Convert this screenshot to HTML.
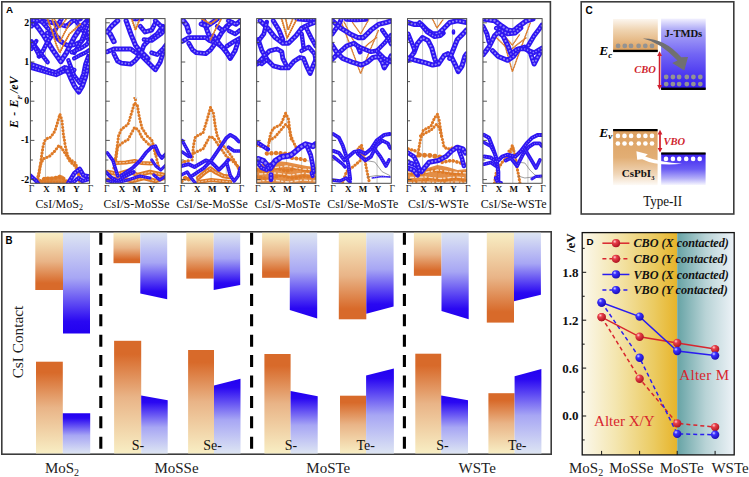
<!DOCTYPE html>
<html><head><meta charset="utf-8"><style>
html,body{margin:0;padding:0;background:#fff;width:749px;height:477px;overflow:hidden}
svg{display:block;position:absolute;left:0;top:0}
</style></head><body>
<svg width="749" height="477" viewBox="0 0 749 477">
<rect x="1.8" y="1.8" width="548.6" height="212" fill="none" stroke="#3c3c3c" stroke-width="1.6"/>
<text x="6.0" y="13.1" font-family="Liberation Sans, sans-serif" font-weight="bold" font-size="9.8" fill="#000">A</text>
<text transform="translate(17.8,102.2) rotate(-90)" text-anchor="middle" font-family="Liberation Serif, serif" font-weight="bold" font-style="italic" font-size="12" fill="#000">E<tspan dx="1.2"> -</tspan><tspan dx="1.2"> E</tspan><tspan font-size="7" dy="4.4">F</tspan><tspan dy="-4.4" dx="1.8">/eV</tspan></text>
<g>
<rect x="30.4" y="18.6" width="59.2" height="164.70000000000002" fill="#fff"/>
<line x1="45.50" y1="18.6" x2="45.50" y2="183.3" stroke="#c4c4c4" stroke-width="1"/>
<line x1="60.30" y1="18.6" x2="60.30" y2="183.3" stroke="#c4c4c4" stroke-width="1"/>
<line x1="75.39" y1="18.6" x2="75.39" y2="183.3" stroke="#c4c4c4" stroke-width="1"/>
<clipPath id="cp0"><rect x="30.4" y="18.6" width="59.2" height="164.70000000000002"/></clipPath>
<g clip-path="url(#cp0)">
<polyline points="37.4,182.0 39.4,172.0 41.9,153.9 43.1,146.4 44.4,141.3 46.3,138.8 50.1,137.5 53.2,133.8 55.1,130.6 57.4,123.0 59.9,114.2 61.9,120.0 63.3,133.8 64.5,140.7 65.2,145.7 66.4,150.8 68.3,157.7 72.4,161.0 75.4,163.0 77.8,169.8 79.7,183.0" fill="none" stroke="#9a9a9a" stroke-width="0.6" stroke-linejoin="round" stroke-linecap="round"/>
<polyline points="37.4,182.0 39.4,172.0 41.9,153.9 43.1,146.4 44.4,141.3 46.3,138.8 50.1,137.5 53.2,133.8 55.1,130.6 57.4,123.0 59.9,114.2 61.9,120.0 63.3,133.8 64.5,140.7 65.2,145.7 66.4,150.8 68.3,157.7 72.4,161.0 75.4,163.0 77.8,169.8 79.7,183.0" fill="none" stroke="#df7a26" stroke-width="3.12" stroke-linejoin="round" stroke-linecap="round" stroke-dasharray="0.01 3.24"/>
<polyline points="36.4,183.0 38.4,175.0 40.4,165.0 43.1,158.9 49.4,156.4 54.5,151.4 58.9,145.7 61.4,147.6 63.9,151.4 67.0,156.4 70.4,162.0 74.1,165.0 76.9,169.0 79.4,176.0 82.4,184.0" fill="none" stroke="#9a9a9a" stroke-width="0.6" stroke-linejoin="round" stroke-linecap="round"/>
<polyline points="36.4,183.0 38.4,175.0 40.4,165.0 43.1,158.9 49.4,156.4 54.5,151.4 58.9,145.7 61.4,147.6 63.9,151.4 67.0,156.4 70.4,162.0 74.1,165.0 76.9,169.0 79.4,176.0 82.4,184.0" fill="none" stroke="#df7a26" stroke-width="3.12" stroke-linejoin="round" stroke-linecap="round" stroke-dasharray="0.01 3.24"/>
<polygon points="40.4,184.0 43.4,177.0 56.4,176.5 59.4,174.5 63.4,176.0 67.4,184.0" fill="#df7a26" fill-opacity="0.9"/>
<polyline points="40.4,181.0 44.4,178.5 52.4,178.5 59.4,177.0 64.4,179.0 68.4,183.0" fill="none" stroke="#9a9a9a" stroke-width="0.6" stroke-linejoin="round" stroke-linecap="round"/>
<polyline points="40.4,181.0 44.4,178.5 52.4,178.5 59.4,177.0 64.4,179.0 68.4,183.0" fill="none" stroke="#df7a26" stroke-width="3.9000000000000004" stroke-linejoin="round" stroke-linecap="round" stroke-dasharray="0.01 4.05"/>
<polyline points="39.4,182.0 50.4,182.0 66.4,182.5" fill="none" stroke="#9a9a9a" stroke-width="0.6" stroke-linejoin="round" stroke-linecap="round"/>
<polyline points="39.4,182.0 50.4,182.0 66.4,182.5" fill="none" stroke="#df7a26" stroke-width="2.8600000000000003" stroke-linejoin="round" stroke-linecap="round" stroke-dasharray="0.01 2.97"/>
<polyline points="30.4,175.5 36.3,181.1 38.4,184.0" fill="none" stroke="#2e16f2" stroke-width="4.14" stroke-linejoin="round" stroke-linecap="round"/>
<polyline points="30.4,175.5 36.3,181.1 38.4,184.0" fill="none" stroke="#ffffff" stroke-width="1.1399999999999997" stroke-linejoin="round" stroke-linecap="round" stroke-opacity="0.45" stroke-dasharray="0.01 2.64"/>
<polyline points="68.4,183.0 74.1,173.6 79.7,168.9 83.5,175.5 89.2,176.4" fill="none" stroke="#2e16f2" stroke-width="4.6" stroke-linejoin="round" stroke-linecap="round"/>
<polyline points="68.4,183.0 74.1,173.6 79.7,168.9 83.5,175.5 89.2,176.4" fill="none" stroke="#ffffff" stroke-width="1.5999999999999996" stroke-linejoin="round" stroke-linecap="round" stroke-opacity="0.45" stroke-dasharray="0.01 3.10"/>
<polyline points="72.4,183.0 78.4,178.0 82.4,181.0 89.4,179.0" fill="none" stroke="#2e16f2" stroke-width="4.14" stroke-linejoin="round" stroke-linecap="round"/>
<polyline points="72.4,183.0 78.4,178.0 82.4,181.0 89.4,179.0" fill="none" stroke="#ffffff" stroke-width="1.1399999999999997" stroke-linejoin="round" stroke-linecap="round" stroke-opacity="0.45" stroke-dasharray="0.01 2.64"/>
<polyline points="30.4,64.0 42.0,68.0 50.4,71.0 56.1,72.5 64.6,67.5 74.1,70.0" fill="none" stroke="#2e16f2" stroke-width="4.83" stroke-linejoin="round" stroke-linecap="round"/>
<polyline points="30.4,64.0 42.0,68.0 50.4,71.0 56.1,72.5 64.6,67.5 74.1,70.0" fill="none" stroke="#ffffff" stroke-width="1.83" stroke-linejoin="round" stroke-linecap="round" stroke-opacity="0.45" stroke-dasharray="0.01 3.33"/>
<polyline points="30.4,67.5 42.0,71.0 50.4,73.5 56.1,75.0 64.4,71.0 70.4,72.0" fill="none" stroke="#2e16f2" stroke-width="4.369999999999999" stroke-linejoin="round" stroke-linecap="round"/>
<polyline points="30.4,67.5 42.0,71.0 50.4,73.5 56.1,75.0 64.4,71.0 70.4,72.0" fill="none" stroke="#ffffff" stroke-width="1.3699999999999992" stroke-linejoin="round" stroke-linecap="round" stroke-opacity="0.45" stroke-dasharray="0.01 2.87"/>
<polyline points="66.4,68.0 70.3,77.3 74.4,86.0 78.8,92.0 82.4,86.0 85.4,77.3 87.4,68.0 89.2,60.3" fill="none" stroke="#2e16f2" stroke-width="5.06" stroke-linejoin="round" stroke-linecap="round"/>
<polyline points="66.4,68.0 70.3,77.3 74.4,86.0 78.8,92.0 82.4,86.0 85.4,77.3 87.4,68.0 89.2,60.3" fill="none" stroke="#ffffff" stroke-width="2.0599999999999996" stroke-linejoin="round" stroke-linecap="round" stroke-opacity="0.45" stroke-dasharray="0.01 3.56"/>
<polyline points="68.4,60.3 74.1,75.4 79.7,82.9 83.4,74.0 85.4,64.0 88.4,56.0" fill="none" stroke="#2e16f2" stroke-width="4.369999999999999" stroke-linejoin="round" stroke-linecap="round"/>
<polyline points="68.4,60.3 74.1,75.4 79.7,82.9 83.4,74.0 85.4,64.0 88.4,56.0" fill="none" stroke="#ffffff" stroke-width="1.3699999999999992" stroke-linejoin="round" stroke-linecap="round" stroke-opacity="0.45" stroke-dasharray="0.01 2.87"/>
<polyline points="32.5,20.7 38.4,28.0 43.9,35.8 48.4,43.0 53.3,50.8 60.8,61.5 66.5,52.7 74.1,37.6 81.6,26.3 87.3,20.7" fill="none" stroke="#2e16f2" stroke-width="5.289999999999999" stroke-linejoin="round" stroke-linecap="round"/>
<polyline points="32.5,20.7 38.4,28.0 43.9,35.8 48.4,43.0 53.3,50.8 60.8,61.5 66.5,52.7 74.1,37.6 81.6,26.3 87.3,20.7" fill="none" stroke="#ffffff" stroke-width="2.289999999999999" stroke-linejoin="round" stroke-linecap="round" stroke-opacity="0.45" stroke-dasharray="0.01 3.79"/>
<polyline points="47.4,33.0 53.3,35.0 60.8,41.4 66.4,45.0 72.2,45.2 76.4,44.0 81.6,41.4 85.4,36.0 89.2,32.0" fill="none" stroke="#2e16f2" stroke-width="4.83" stroke-linejoin="round" stroke-linecap="round"/>
<polyline points="47.4,33.0 53.3,35.0 60.8,41.4 66.4,45.0 72.2,45.2 76.4,44.0 81.6,41.4 85.4,36.0 89.2,32.0" fill="none" stroke="#ffffff" stroke-width="1.83" stroke-linejoin="round" stroke-linecap="round" stroke-opacity="0.45" stroke-dasharray="0.01 3.33"/>
<polyline points="31.6,41.4 40.1,52.7 47.6,62.2" fill="none" stroke="#2e16f2" stroke-width="4.369999999999999" stroke-linejoin="round" stroke-linecap="round"/>
<polyline points="31.6,41.4 40.1,52.7 47.6,62.2" fill="none" stroke="#ffffff" stroke-width="1.3699999999999992" stroke-linejoin="round" stroke-linecap="round" stroke-opacity="0.45" stroke-dasharray="0.01 2.87"/>
<polyline points="31.6,49.0 34.4,44.0 36.4,41.0" fill="none" stroke="#2e16f2" stroke-width="4.14" stroke-linejoin="round" stroke-linecap="round"/>
<polyline points="31.6,49.0 34.4,44.0 36.4,41.0" fill="none" stroke="#ffffff" stroke-width="1.1399999999999997" stroke-linejoin="round" stroke-linecap="round" stroke-opacity="0.45" stroke-dasharray="0.01 2.64"/>
<polyline points="31.6,26.3 36.3,20.7" fill="none" stroke="#2e16f2" stroke-width="4.369999999999999" stroke-linejoin="round" stroke-linecap="round"/>
<polyline points="31.6,26.3 36.3,20.7" fill="none" stroke="#ffffff" stroke-width="1.3699999999999992" stroke-linejoin="round" stroke-linecap="round" stroke-opacity="0.45" stroke-dasharray="0.01 2.87"/>
<polyline points="30.4,20.0 40.4,21.0 50.8,22.5 58.4,24.0 66.5,26.3 72.4,21.0 80.4,19.0" fill="none" stroke="#2e16f2" stroke-width="4.83" stroke-linejoin="round" stroke-linecap="round"/>
<polyline points="30.4,20.0 40.4,21.0 50.8,22.5 58.4,24.0 66.5,26.3 72.4,21.0 80.4,19.0" fill="none" stroke="#ffffff" stroke-width="1.83" stroke-linejoin="round" stroke-linecap="round" stroke-opacity="0.45" stroke-dasharray="0.01 3.33"/>
<polyline points="74.1,58.4 80.4,55.0 85.4,52.7 89.4,50.0" fill="none" stroke="#2e16f2" stroke-width="4.14" stroke-linejoin="round" stroke-linecap="round"/>
<polyline points="74.1,58.4 80.4,55.0 85.4,52.7 89.4,50.0" fill="none" stroke="#ffffff" stroke-width="1.1399999999999997" stroke-linejoin="round" stroke-linecap="round" stroke-opacity="0.45" stroke-dasharray="0.01 2.64"/>
<polyline points="76.4,22.0 82.4,30.0 88.4,40.0" fill="none" stroke="#2e16f2" stroke-width="4.14" stroke-linejoin="round" stroke-linecap="round"/>
<polyline points="76.4,22.0 82.4,30.0 88.4,40.0" fill="none" stroke="#ffffff" stroke-width="1.1399999999999997" stroke-linejoin="round" stroke-linecap="round" stroke-opacity="0.45" stroke-dasharray="0.01 2.64"/>
<polyline points="39.9,19.5 47.4,27.9 54.1,33.8 58.4,38.0" fill="none" stroke="#2e16f2" stroke-width="4.6" stroke-linejoin="round" stroke-linecap="round"/>
<polyline points="39.9,19.5 47.4,27.9 54.1,33.8 58.4,38.0" fill="none" stroke="#ffffff" stroke-width="1.5999999999999996" stroke-linejoin="round" stroke-linecap="round" stroke-opacity="0.45" stroke-dasharray="0.01 3.10"/>
<polyline points="39.0,56.4 43.4,50.0 47.4,42.1 54.1,32.1 58.4,24.0 61.4,19.0" fill="none" stroke="#2e16f2" stroke-width="4.6" stroke-linejoin="round" stroke-linecap="round"/>
<polyline points="39.0,56.4 43.4,50.0 47.4,42.1 54.1,32.1 58.4,24.0 61.4,19.0" fill="none" stroke="#ffffff" stroke-width="1.5999999999999996" stroke-linejoin="round" stroke-linecap="round" stroke-opacity="0.45" stroke-dasharray="0.01 3.10"/>
<polyline points="30.7,42.0 33.4,45.0 36.5,50.5 39.4,56.0" fill="none" stroke="#2e16f2" stroke-width="4.369999999999999" stroke-linejoin="round" stroke-linecap="round"/>
<polyline points="30.7,42.0 33.4,45.0 36.5,50.5 39.4,56.0" fill="none" stroke="#ffffff" stroke-width="1.3699999999999992" stroke-linejoin="round" stroke-linecap="round" stroke-opacity="0.45" stroke-dasharray="0.01 2.87"/>
<polyline points="87.5,25.4 80.8,42.1 74.1,53.0" fill="none" stroke="#2e16f2" stroke-width="4.369999999999999" stroke-linejoin="round" stroke-linecap="round"/>
<polyline points="87.5,25.4 80.8,42.1 74.1,53.0" fill="none" stroke="#ffffff" stroke-width="1.3699999999999992" stroke-linejoin="round" stroke-linecap="round" stroke-opacity="0.45" stroke-dasharray="0.01 2.87"/>
<polyline points="71.6,52.2 79.9,48.8 86.6,44.6 90.8,38.8" fill="none" stroke="#2e16f2" stroke-width="4.369999999999999" stroke-linejoin="round" stroke-linecap="round"/>
<polyline points="71.6,52.2 79.9,48.8 86.6,44.6 90.8,38.8" fill="none" stroke="#ffffff" stroke-width="1.3699999999999992" stroke-linejoin="round" stroke-linecap="round" stroke-opacity="0.45" stroke-dasharray="0.01 2.87"/>
<polyline points="47.6,18.8 52.4,32.0 56.4,45.0 59.9,52.7 64.4,43.0 69.4,34.0 75.9,28.2 80.4,24.0" fill="none" stroke="#9a9a9a" stroke-width="0.6" stroke-linejoin="round" stroke-linecap="round"/>
<polyline points="47.6,18.8 52.4,32.0 56.4,45.0 59.9,52.7 64.4,43.0 69.4,34.0 75.9,28.2 80.4,24.0" fill="none" stroke="#df7a26" stroke-width="2.08" stroke-linejoin="round" stroke-linecap="round" stroke-dasharray="0.01 2.16"/>
<polyline points="52.4,20.0 56.4,32.0 59.9,42.0 64.4,33.0 70.4,22.0" fill="none" stroke="#9a9a9a" stroke-width="0.6" stroke-linejoin="round" stroke-linecap="round"/>
<polyline points="52.4,20.0 56.4,32.0 59.9,42.0 64.4,33.0 70.4,22.0" fill="none" stroke="#df7a26" stroke-width="1.9500000000000002" stroke-linejoin="round" stroke-linecap="round" stroke-dasharray="0.01 2.03"/>
<polyline points="54.4,19.0 59.4,28.0 66.4,19.0" fill="none" stroke="#9a9a9a" stroke-width="0.6" stroke-linejoin="round" stroke-linecap="round"/>
<polyline points="54.4,19.0 59.4,28.0 66.4,19.0" fill="none" stroke="#df7a26" stroke-width="1.8199999999999998" stroke-linejoin="round" stroke-linecap="round" stroke-dasharray="0.01 1.89"/>
</g>
<line x1="30.4" y1="179.60" x2="34.4" y2="179.60" stroke="#444" stroke-width="0.9"/>
<line x1="30.4" y1="160.00" x2="32.9" y2="160.00" stroke="#444" stroke-width="0.9"/>
<line x1="30.4" y1="140.40" x2="34.4" y2="140.40" stroke="#444" stroke-width="0.9"/>
<line x1="30.4" y1="120.80" x2="32.9" y2="120.80" stroke="#444" stroke-width="0.9"/>
<line x1="30.4" y1="101.20" x2="34.4" y2="101.20" stroke="#444" stroke-width="0.9"/>
<line x1="30.4" y1="81.60" x2="32.9" y2="81.60" stroke="#444" stroke-width="0.9"/>
<line x1="30.4" y1="62.00" x2="34.4" y2="62.00" stroke="#444" stroke-width="0.9"/>
<line x1="30.4" y1="42.40" x2="32.9" y2="42.40" stroke="#444" stroke-width="0.9"/>
<line x1="30.4" y1="22.80" x2="34.4" y2="22.80" stroke="#444" stroke-width="0.9"/>
<rect x="30.4" y="18.6" width="59.2" height="164.70000000000002" fill="none" stroke="#4a4a4a" stroke-width="1"/>
<text x="31.40" y="191.8" text-anchor="middle" font-family="Liberation Serif, serif" font-size="9.5" fill="#222">Γ</text>
<text x="46.50" y="191.8" text-anchor="middle" font-family="Liberation Serif, serif" font-weight="bold" font-size="9" fill="#111">X</text>
<text x="61.30" y="191.8" text-anchor="middle" font-family="Liberation Serif, serif" font-weight="bold" font-size="9" fill="#111">M</text>
<text x="76.39" y="191.8" text-anchor="middle" font-family="Liberation Serif, serif" font-weight="bold" font-size="9" fill="#111">Y</text>
<text x="90.60" y="191.8" text-anchor="middle" font-family="Liberation Serif, serif" font-size="9.5" fill="#222">Γ</text>
</g>
<g>
<rect x="105.82" y="18.6" width="59.2" height="164.70000000000002" fill="#fff"/>
<line x1="120.92" y1="18.6" x2="120.92" y2="183.3" stroke="#c4c4c4" stroke-width="1"/>
<line x1="135.72" y1="18.6" x2="135.72" y2="183.3" stroke="#c4c4c4" stroke-width="1"/>
<line x1="150.81" y1="18.6" x2="150.81" y2="183.3" stroke="#c4c4c4" stroke-width="1"/>
<clipPath id="cp1"><rect x="105.82" y="18.6" width="59.2" height="164.70000000000002"/></clipPath>
<g clip-path="url(#cp1)">
<polyline points="107.8,172.0 117.8,174.0 127.8,171.0 137.8,175.0 149.8,172.0 163.8,175.0" fill="none" stroke="#9a9a9a" stroke-width="0.6" stroke-linejoin="round" stroke-linecap="round"/>
<polyline points="107.8,172.0 117.8,174.0 127.8,171.0 137.8,175.0 149.8,172.0 163.8,175.0" fill="none" stroke="#df7a26" stroke-width="4.4" stroke-linejoin="round" stroke-linecap="round"/>
<polyline points="107.8,172.0 117.8,174.0 127.8,171.0 137.8,175.0 149.8,172.0 163.8,175.0" fill="none" stroke="#ffffff" stroke-width="1.0" stroke-linejoin="round" stroke-linecap="round" stroke-opacity="0.6" stroke-dasharray="1.5 2"/>
<polyline points="107.8,180.0 119.8,178.0 131.8,181.0 143.8,178.0 155.8,181.0 163.8,178.0" fill="none" stroke="#9a9a9a" stroke-width="0.6" stroke-linejoin="round" stroke-linecap="round"/>
<polyline points="107.8,180.0 119.8,178.0 131.8,181.0 143.8,178.0 155.8,181.0 163.8,178.0" fill="none" stroke="#df7a26" stroke-width="4.4" stroke-linejoin="round" stroke-linecap="round"/>
<polyline points="107.8,180.0 119.8,178.0 131.8,181.0 143.8,178.0 155.8,181.0 163.8,178.0" fill="none" stroke="#ffffff" stroke-width="1.0" stroke-linejoin="round" stroke-linecap="round" stroke-opacity="0.6" stroke-dasharray="1.5 2"/>
<polyline points="113.8,168.0 115.8,156.6 118.6,135.8 121.4,129.2 128.0,124.5 131.8,112.3 134.6,102.8 137.4,105.7 139.3,117.0 142.1,128.3 147.8,136.8 151.6,139.6 153.5,145.3 155.8,155.0 158.8,168.0" fill="none" stroke="#9a9a9a" stroke-width="0.6" stroke-linejoin="round" stroke-linecap="round"/>
<polyline points="113.8,168.0 115.8,156.6 118.6,135.8 121.4,129.2 128.0,124.5 131.8,112.3 134.6,102.8 137.4,105.7 139.3,117.0 142.1,128.3 147.8,136.8 151.6,139.6 153.5,145.3 155.8,155.0 158.8,168.0" fill="none" stroke="#df7a26" stroke-width="3.12" stroke-linejoin="round" stroke-linecap="round" stroke-dasharray="0.01 3.24"/>
<polyline points="115.8,160.0 117.6,147.2 121.4,143.4 128.0,139.6 134.6,127.4 138.4,130.2 142.1,137.7 149.7,145.3 153.5,147.2 155.8,156.0" fill="none" stroke="#9a9a9a" stroke-width="0.6" stroke-linejoin="round" stroke-linecap="round"/>
<polyline points="115.8,160.0 117.6,147.2 121.4,143.4 128.0,139.6 134.6,127.4 138.4,130.2 142.1,137.7 149.7,145.3 153.5,147.2 155.8,156.0" fill="none" stroke="#df7a26" stroke-width="3.12" stroke-linejoin="round" stroke-linecap="round" stroke-dasharray="0.01 3.24"/>
<polyline points="115.8,163.0 125.8,162.5 134.8,161.0 141.8,163.0 151.6,163.5" fill="none" stroke="#9a9a9a" stroke-width="0.6" stroke-linejoin="round" stroke-linecap="round"/>
<polyline points="115.8,163.0 125.8,162.5 134.8,161.0 141.8,163.0 151.6,163.5" fill="none" stroke="#df7a26" stroke-width="4.2" stroke-linejoin="round" stroke-linecap="round"/>
<polyline points="115.8,163.0 125.8,162.5 134.8,161.0 141.8,163.0 151.6,163.5" fill="none" stroke="#ffffff" stroke-width="1.0" stroke-linejoin="round" stroke-linecap="round" stroke-opacity="0.6" stroke-dasharray="1.5 2"/>
<polyline points="107.2,152.8 112.9,160.4 115.8,169.8 117.8,176.0" fill="none" stroke="#2e16f2" stroke-width="3.4959999999999996" stroke-linejoin="round" stroke-linecap="round"/>
<polyline points="107.2,152.8 112.9,160.4 115.8,169.8 117.8,176.0" fill="none" stroke="#ffffff" stroke-width="0.8" stroke-linejoin="round" stroke-linecap="round" stroke-opacity="0.45" stroke-dasharray="0.01 2.30"/>
<polyline points="121.4,175.5 132.7,167.9 140.3,160.4 145.9,152.8 151.6,147.2 155.4,146.2 159.1,154.7 161.8,158.0 165.8,154.0" fill="none" stroke="#2e16f2" stroke-width="3.6799999999999997" stroke-linejoin="round" stroke-linecap="round"/>
<polyline points="121.4,175.5 132.7,167.9 140.3,160.4 145.9,152.8 151.6,147.2 155.4,146.2 159.1,154.7 161.8,158.0 165.8,154.0" fill="none" stroke="#ffffff" stroke-width="0.8" stroke-linejoin="round" stroke-linecap="round" stroke-opacity="0.45" stroke-dasharray="0.01 2.30"/>
<polyline points="105.8,172.0 111.8,178.0 117.8,181.0 125.8,176.0 133.8,172.0" fill="none" stroke="#2e16f2" stroke-width="3.6799999999999997" stroke-linejoin="round" stroke-linecap="round"/>
<polyline points="105.8,172.0 111.8,178.0 117.8,181.0 125.8,176.0 133.8,172.0" fill="none" stroke="#ffffff" stroke-width="0.8" stroke-linejoin="round" stroke-linecap="round" stroke-opacity="0.45" stroke-dasharray="0.01 2.30"/>
<polyline points="105.8,180.0 115.8,183.0 127.8,180.0 139.8,176.0 149.8,178.0" fill="none" stroke="#2e16f2" stroke-width="3.312" stroke-linejoin="round" stroke-linecap="round"/>
<polyline points="105.8,180.0 115.8,183.0 127.8,180.0 139.8,176.0 149.8,178.0" fill="none" stroke="#ffffff" stroke-width="0.8" stroke-linejoin="round" stroke-linecap="round" stroke-opacity="0.45" stroke-dasharray="0.01 2.30"/>
<polyline points="151.8,160.0 155.8,166.0 160.8,170.0 165.8,165.0" fill="none" stroke="#2e16f2" stroke-width="3.128" stroke-linejoin="round" stroke-linecap="round"/>
<polyline points="151.8,160.0 155.8,166.0 160.8,170.0 165.8,165.0" fill="none" stroke="#ffffff" stroke-width="0.8" stroke-linejoin="round" stroke-linecap="round" stroke-opacity="0.45" stroke-dasharray="0.01 2.30"/>
<polyline points="153.8,175.0 159.8,180.0 165.8,176.0" fill="none" stroke="#2e16f2" stroke-width="3.128" stroke-linejoin="round" stroke-linecap="round"/>
<polyline points="153.8,175.0 159.8,180.0 165.8,176.0" fill="none" stroke="#ffffff" stroke-width="0.8" stroke-linejoin="round" stroke-linecap="round" stroke-opacity="0.45" stroke-dasharray="0.01 2.30"/>
<polyline points="107.2,51.8 113.9,49.0 130.8,49.0 134.6,51.8 142.2,56.5 151.6,66.0 155.4,69.7 160.1,62.2 163.8,50.8" fill="none" stroke="#2e16f2" stroke-width="4.83" stroke-linejoin="round" stroke-linecap="round"/>
<polyline points="107.2,51.8 113.9,49.0 130.8,49.0 134.6,51.8 142.2,56.5 151.6,66.0 155.4,69.7 160.1,62.2 163.8,50.8" fill="none" stroke="#ffffff" stroke-width="1.83" stroke-linejoin="round" stroke-linecap="round" stroke-opacity="0.45" stroke-dasharray="0.01 3.33"/>
<polyline points="113.9,53.7 117.6,61.2 121.4,63.1 130.8,64.1 135.5,60.3 140.3,54.6 144.0,45.2 149.7,39.5 157.2,33.9 162.9,26.3" fill="none" stroke="#2e16f2" stroke-width="4.83" stroke-linejoin="round" stroke-linecap="round"/>
<polyline points="113.9,53.7 117.6,61.2 121.4,63.1 130.8,64.1 135.5,60.3 140.3,54.6 144.0,45.2 149.7,39.5 157.2,33.9 162.9,26.3" fill="none" stroke="#ffffff" stroke-width="1.83" stroke-linejoin="round" stroke-linecap="round" stroke-opacity="0.45" stroke-dasharray="0.01 3.33"/>
<polyline points="117.6,20.7 111.8,26.0 107.2,32.0" fill="none" stroke="#2e16f2" stroke-width="5.289999999999999" stroke-linejoin="round" stroke-linecap="round"/>
<polyline points="117.6,20.7 111.8,26.0 107.2,32.0" fill="none" stroke="#ffffff" stroke-width="2.289999999999999" stroke-linejoin="round" stroke-linecap="round" stroke-opacity="0.45" stroke-dasharray="0.01 3.79"/>
<polyline points="110.1,33.9 113.9,41.4" fill="none" stroke="#2e16f2" stroke-width="5.52" stroke-linejoin="round" stroke-linecap="round"/>
<polyline points="110.1,33.9 113.9,41.4" fill="none" stroke="#ffffff" stroke-width="2.5199999999999996" stroke-linejoin="round" stroke-linecap="round" stroke-opacity="0.45" stroke-dasharray="0.01 4.02"/>
<polyline points="126.1,20.7 130.8,33.9 135.5,45.2 138.4,49.0 147.8,58.4" fill="none" stroke="#2e16f2" stroke-width="5.06" stroke-linejoin="round" stroke-linecap="round"/>
<polyline points="126.1,20.7 130.8,33.9 135.5,45.2 138.4,49.0 147.8,58.4" fill="none" stroke="#ffffff" stroke-width="2.0599999999999996" stroke-linejoin="round" stroke-linecap="round" stroke-opacity="0.45" stroke-dasharray="0.01 3.56"/>
<polyline points="140.3,26.3 145.0,32.0 151.6,30.1 154.8,24.0" fill="none" stroke="#2e16f2" stroke-width="4.83" stroke-linejoin="round" stroke-linecap="round"/>
<polyline points="140.3,26.3 145.0,32.0 151.6,30.1 154.8,24.0" fill="none" stroke="#ffffff" stroke-width="1.83" stroke-linejoin="round" stroke-linecap="round" stroke-opacity="0.45" stroke-dasharray="0.01 3.33"/>
<polyline points="144.0,39.5 151.6,40.5 161.0,33.9 164.8,30.0" fill="none" stroke="#2e16f2" stroke-width="4.6" stroke-linejoin="round" stroke-linecap="round"/>
<polyline points="144.0,39.5 151.6,40.5 161.0,33.9 164.8,30.0" fill="none" stroke="#ffffff" stroke-width="1.5999999999999996" stroke-linejoin="round" stroke-linecap="round" stroke-opacity="0.45" stroke-dasharray="0.01 3.10"/>
<polyline points="155.4,20.7 161.0,26.3 164.8,30.0" fill="none" stroke="#2e16f2" stroke-width="4.83" stroke-linejoin="round" stroke-linecap="round"/>
<polyline points="155.4,20.7 161.0,26.3 164.8,30.0" fill="none" stroke="#ffffff" stroke-width="1.83" stroke-linejoin="round" stroke-linecap="round" stroke-opacity="0.45" stroke-dasharray="0.01 3.33"/>
<polyline points="151.6,52.7 157.2,54.6 162.9,49.0 165.8,45.0" fill="none" stroke="#2e16f2" stroke-width="4.6" stroke-linejoin="round" stroke-linecap="round"/>
<polyline points="151.6,52.7 157.2,54.6 162.9,49.0 165.8,45.0" fill="none" stroke="#ffffff" stroke-width="1.5999999999999996" stroke-linejoin="round" stroke-linecap="round" stroke-opacity="0.45" stroke-dasharray="0.01 3.10"/>
<polyline points="133.8,19.0 141.8,19.0" fill="none" stroke="#2e16f2" stroke-width="4.6" stroke-linejoin="round" stroke-linecap="round"/>
<polyline points="133.8,19.0 141.8,19.0" fill="none" stroke="#ffffff" stroke-width="1.5999999999999996" stroke-linejoin="round" stroke-linecap="round" stroke-opacity="0.45" stroke-dasharray="0.01 3.10"/>
<polyline points="131.8,19.0 135.5,30.0 139.8,19.0" fill="none" stroke="#9a9a9a" stroke-width="0.6" stroke-linejoin="round" stroke-linecap="round"/>
<polyline points="131.8,19.0 135.5,30.0 139.8,19.0" fill="none" stroke="#df7a26" stroke-width="2.08" stroke-linejoin="round" stroke-linecap="round" stroke-dasharray="0.01 2.16"/>
<polyline points="134.3,98.0 135.5,101.0 136.8,98.0" fill="none" stroke="#9a9a9a" stroke-width="0.6" stroke-linejoin="round" stroke-linecap="round"/>
<polyline points="134.3,98.0 135.5,101.0 136.8,98.0" fill="none" stroke="#df7a26" stroke-width="2.08" stroke-linejoin="round" stroke-linecap="round" stroke-dasharray="0.01 2.16"/>
</g>
<line x1="105.82" y1="179.60" x2="109.82" y2="179.60" stroke="#444" stroke-width="0.9"/>
<line x1="105.82" y1="160.00" x2="108.32" y2="160.00" stroke="#444" stroke-width="0.9"/>
<line x1="105.82" y1="140.40" x2="109.82" y2="140.40" stroke="#444" stroke-width="0.9"/>
<line x1="105.82" y1="120.80" x2="108.32" y2="120.80" stroke="#444" stroke-width="0.9"/>
<line x1="105.82" y1="101.20" x2="109.82" y2="101.20" stroke="#444" stroke-width="0.9"/>
<line x1="105.82" y1="81.60" x2="108.32" y2="81.60" stroke="#444" stroke-width="0.9"/>
<line x1="105.82" y1="62.00" x2="109.82" y2="62.00" stroke="#444" stroke-width="0.9"/>
<line x1="105.82" y1="42.40" x2="108.32" y2="42.40" stroke="#444" stroke-width="0.9"/>
<line x1="105.82" y1="22.80" x2="109.82" y2="22.80" stroke="#444" stroke-width="0.9"/>
<rect x="105.82" y="18.6" width="59.2" height="164.70000000000002" fill="none" stroke="#4a4a4a" stroke-width="1"/>
<text x="106.82" y="191.8" text-anchor="middle" font-family="Liberation Serif, serif" font-size="9.5" fill="#222">Γ</text>
<text x="121.92" y="191.8" text-anchor="middle" font-family="Liberation Serif, serif" font-weight="bold" font-size="9" fill="#111">X</text>
<text x="136.72" y="191.8" text-anchor="middle" font-family="Liberation Serif, serif" font-weight="bold" font-size="9" fill="#111">M</text>
<text x="151.81" y="191.8" text-anchor="middle" font-family="Liberation Serif, serif" font-weight="bold" font-size="9" fill="#111">Y</text>
<text x="166.02" y="191.8" text-anchor="middle" font-family="Liberation Serif, serif" font-size="9.5" fill="#222">Γ</text>
</g>
<g>
<rect x="181.24" y="18.6" width="59.2" height="164.70000000000002" fill="#fff"/>
<line x1="196.34" y1="18.6" x2="196.34" y2="183.3" stroke="#c4c4c4" stroke-width="1"/>
<line x1="211.14" y1="18.6" x2="211.14" y2="183.3" stroke="#c4c4c4" stroke-width="1"/>
<line x1="226.23" y1="18.6" x2="226.23" y2="183.3" stroke="#c4c4c4" stroke-width="1"/>
<clipPath id="cp2"><rect x="181.24" y="18.6" width="59.2" height="164.70000000000002"/></clipPath>
<g clip-path="url(#cp2)">
<polyline points="192.2,160.0 193.5,145.3 195.4,136.8 203.0,133.0 206.8,120.8 210.5,107.5 213.4,113.2 215.3,126.4 217.2,135.8 220.9,143.4 224.7,147.2 230.3,154.7 235.2,162.0 239.2,170.0" fill="none" stroke="#9a9a9a" stroke-width="0.6" stroke-linejoin="round" stroke-linecap="round"/>
<polyline points="192.2,160.0 193.5,145.3 195.4,136.8 203.0,133.0 206.8,120.8 210.5,107.5 213.4,113.2 215.3,126.4 217.2,135.8 220.9,143.4 224.7,147.2 230.3,154.7 235.2,162.0 239.2,170.0" fill="none" stroke="#df7a26" stroke-width="3.12" stroke-linejoin="round" stroke-linecap="round" stroke-dasharray="0.01 3.24"/>
<polyline points="194.5,152.8 203.0,149.0 209.6,136.8 213.4,137.7 217.2,143.4 226.6,156.6 234.1,162.3 239.2,168.0" fill="none" stroke="#9a9a9a" stroke-width="0.6" stroke-linejoin="round" stroke-linecap="round"/>
<polyline points="194.5,152.8 203.0,149.0 209.6,136.8 213.4,137.7 217.2,143.4 226.6,156.6 234.1,162.3 239.2,168.0" fill="none" stroke="#df7a26" stroke-width="3.12" stroke-linejoin="round" stroke-linecap="round" stroke-dasharray="0.01 3.24"/>
<polyline points="198.2,178.0 205.2,172.0 210.5,168.5 215.2,172.0 223.2,176.0 230.2,177.0" fill="none" stroke="#9a9a9a" stroke-width="0.6" stroke-linejoin="round" stroke-linecap="round"/>
<polyline points="198.2,178.0 205.2,172.0 210.5,168.5 215.2,172.0 223.2,176.0 230.2,177.0" fill="none" stroke="#df7a26" stroke-width="4.6" stroke-linejoin="round" stroke-linecap="round"/>
<polyline points="198.2,178.0 205.2,172.0 210.5,168.5 215.2,172.0 223.2,176.0 230.2,177.0" fill="none" stroke="#ffffff" stroke-width="1.0" stroke-linejoin="round" stroke-linecap="round" stroke-opacity="0.6" stroke-dasharray="1.5 2"/>
<polyline points="198.2,182.0 211.2,180.0 230.2,182.0" fill="none" stroke="#9a9a9a" stroke-width="0.6" stroke-linejoin="round" stroke-linecap="round"/>
<polyline points="198.2,182.0 211.2,180.0 230.2,182.0" fill="none" stroke="#df7a26" stroke-width="4.0" stroke-linejoin="round" stroke-linecap="round"/>
<polyline points="198.2,182.0 211.2,180.0 230.2,182.0" fill="none" stroke="#ffffff" stroke-width="1.0" stroke-linejoin="round" stroke-linecap="round" stroke-opacity="0.6" stroke-dasharray="1.5 2"/>
<polyline points="181.2,162.3 190.7,160.4" fill="none" stroke="#9a9a9a" stroke-width="0.6" stroke-linejoin="round" stroke-linecap="round"/>
<polyline points="181.2,162.3 190.7,160.4" fill="none" stroke="#df7a26" stroke-width="3.3800000000000003" stroke-linejoin="round" stroke-linecap="round" stroke-dasharray="0.01 3.51"/>
<polyline points="181.2,181.0 187.2,177.0 191.2,182.0" fill="none" stroke="#9a9a9a" stroke-width="0.6" stroke-linejoin="round" stroke-linecap="round"/>
<polyline points="181.2,181.0 187.2,177.0 191.2,182.0" fill="none" stroke="#df7a26" stroke-width="4.680000000000001" stroke-linejoin="round" stroke-linecap="round" stroke-dasharray="0.01 4.86"/>
<polyline points="182.2,140.6 186.9,149.0 190.7,156.6" fill="none" stroke="#2e16f2" stroke-width="3.4959999999999996" stroke-linejoin="round" stroke-linecap="round"/>
<polyline points="182.2,140.6 186.9,149.0 190.7,156.6" fill="none" stroke="#ffffff" stroke-width="0.8" stroke-linejoin="round" stroke-linecap="round" stroke-opacity="0.45" stroke-dasharray="0.01 2.30"/>
<polyline points="182.2,151.9 188.8,156.6" fill="none" stroke="#2e16f2" stroke-width="3.312" stroke-linejoin="round" stroke-linecap="round"/>
<polyline points="182.2,151.9 188.8,156.6" fill="none" stroke="#ffffff" stroke-width="0.8" stroke-linejoin="round" stroke-linecap="round" stroke-opacity="0.45" stroke-dasharray="0.01 2.30"/>
<polyline points="181.2,166.0 188.8,164.2 194.5,167.0 205.8,160.4 211.5,162.3 219.0,169.8 224.7,164.2 228.2,160.0" fill="none" stroke="#2e16f2" stroke-width="3.8639999999999994" stroke-linejoin="round" stroke-linecap="round"/>
<polyline points="181.2,166.0 188.8,164.2 194.5,167.0 205.8,160.4 211.5,162.3 219.0,169.8 224.7,164.2 228.2,160.0" fill="none" stroke="#ffffff" stroke-width="0.8639999999999994" stroke-linejoin="round" stroke-linecap="round" stroke-opacity="0.45" stroke-dasharray="0.01 2.36"/>
<polyline points="192.6,175.5 203.9,168.0 211.5,160.0 219.0,149.0 226.6,137.7 230.3,134.9 235.1,137.7 238.8,141.5" fill="none" stroke="#2e16f2" stroke-width="3.8639999999999994" stroke-linejoin="round" stroke-linecap="round"/>
<polyline points="192.6,175.5 203.9,168.0 211.5,160.0 219.0,149.0 226.6,137.7 230.3,134.9 235.1,137.7 238.8,141.5" fill="none" stroke="#ffffff" stroke-width="0.8639999999999994" stroke-linejoin="round" stroke-linecap="round" stroke-opacity="0.45" stroke-dasharray="0.01 2.36"/>
<polyline points="228.5,147.2 234.1,151.0 240.2,151.0" fill="none" stroke="#2e16f2" stroke-width="3.4959999999999996" stroke-linejoin="round" stroke-linecap="round"/>
<polyline points="228.5,147.2 234.1,151.0 240.2,151.0" fill="none" stroke="#ffffff" stroke-width="0.8" stroke-linejoin="round" stroke-linecap="round" stroke-opacity="0.45" stroke-dasharray="0.01 2.30"/>
<polyline points="226.6,162.3 230.3,175.5 234.1,181.1 238.2,176.0 240.2,168.0" fill="none" stroke="#2e16f2" stroke-width="3.4959999999999996" stroke-linejoin="round" stroke-linecap="round"/>
<polyline points="226.6,162.3 230.3,175.5 234.1,181.1 238.2,176.0 240.2,168.0" fill="none" stroke="#ffffff" stroke-width="0.8" stroke-linejoin="round" stroke-linecap="round" stroke-opacity="0.45" stroke-dasharray="0.01 2.30"/>
<polyline points="181.2,175.0 187.2,172.0 191.2,178.0 195.2,183.0" fill="none" stroke="#2e16f2" stroke-width="3.312" stroke-linejoin="round" stroke-linecap="round"/>
<polyline points="181.2,175.0 187.2,172.0 191.2,178.0 195.2,183.0" fill="none" stroke="#ffffff" stroke-width="0.8" stroke-linejoin="round" stroke-linecap="round" stroke-opacity="0.45" stroke-dasharray="0.01 2.30"/>
<polyline points="182.2,41.4 188.8,37.6 205.8,37.6 209.6,40.5 217.2,43.3 224.7,49.0 230.3,58.4 235.1,50.8 238.8,39.5" fill="none" stroke="#2e16f2" stroke-width="4.83" stroke-linejoin="round" stroke-linecap="round"/>
<polyline points="182.2,41.4 188.8,37.6 205.8,37.6 209.6,40.5 217.2,43.3 224.7,49.0 230.3,58.4 235.1,50.8 238.8,39.5" fill="none" stroke="#ffffff" stroke-width="1.83" stroke-linejoin="round" stroke-linecap="round" stroke-opacity="0.45" stroke-dasharray="0.01 3.33"/>
<polyline points="188.8,43.3 192.6,49.9 196.4,52.7 205.8,53.7 210.5,49.9 215.3,43.3 220.9,33.9 226.6,26.3 232.2,22.5" fill="none" stroke="#2e16f2" stroke-width="4.83" stroke-linejoin="round" stroke-linecap="round"/>
<polyline points="188.8,43.3 192.6,49.9 196.4,52.7 205.8,53.7 210.5,49.9 215.3,43.3 220.9,33.9 226.6,26.3 232.2,22.5" fill="none" stroke="#ffffff" stroke-width="1.83" stroke-linejoin="round" stroke-linecap="round" stroke-opacity="0.45" stroke-dasharray="0.01 3.33"/>
<polyline points="183.2,20.7 186.9,25.4 188.8,32.0" fill="none" stroke="#2e16f2" stroke-width="5.52" stroke-linejoin="round" stroke-linecap="round"/>
<polyline points="183.2,20.7 186.9,25.4 188.8,32.0" fill="none" stroke="#ffffff" stroke-width="2.5199999999999996" stroke-linejoin="round" stroke-linecap="round" stroke-opacity="0.45" stroke-dasharray="0.01 4.02"/>
<polyline points="203.9,20.7 207.7,32.0 210.2,38.0" fill="none" stroke="#2e16f2" stroke-width="5.06" stroke-linejoin="round" stroke-linecap="round"/>
<polyline points="203.9,20.7 207.7,32.0 210.2,38.0" fill="none" stroke="#ffffff" stroke-width="2.0599999999999996" stroke-linejoin="round" stroke-linecap="round" stroke-opacity="0.45" stroke-dasharray="0.01 3.56"/>
<polyline points="201.2,24.0 207.2,26.0 213.2,22.0 217.2,19.0" fill="none" stroke="#2e16f2" stroke-width="5.06" stroke-linejoin="round" stroke-linecap="round"/>
<polyline points="201.2,24.0 207.2,26.0 213.2,22.0 217.2,19.0" fill="none" stroke="#ffffff" stroke-width="2.0599999999999996" stroke-linejoin="round" stroke-linecap="round" stroke-opacity="0.45" stroke-dasharray="0.01 3.56"/>
<polyline points="213.4,35.8 219.0,43.3 226.6,52.7 230.2,58.0" fill="none" stroke="#2e16f2" stroke-width="4.83" stroke-linejoin="round" stroke-linecap="round"/>
<polyline points="213.4,35.8 219.0,43.3 226.6,52.7 230.2,58.0" fill="none" stroke="#ffffff" stroke-width="1.83" stroke-linejoin="round" stroke-linecap="round" stroke-opacity="0.45" stroke-dasharray="0.01 3.33"/>
<polyline points="217.2,26.3 221.8,30.1 226.6,28.2 229.2,24.0" fill="none" stroke="#2e16f2" stroke-width="4.6" stroke-linejoin="round" stroke-linecap="round"/>
<polyline points="217.2,26.3 221.8,30.1 226.6,28.2 229.2,24.0" fill="none" stroke="#ffffff" stroke-width="1.5999999999999996" stroke-linejoin="round" stroke-linecap="round" stroke-opacity="0.45" stroke-dasharray="0.01 3.10"/>
<polyline points="228.5,20.7 236.0,24.4 240.2,21.0" fill="none" stroke="#2e16f2" stroke-width="4.83" stroke-linejoin="round" stroke-linecap="round"/>
<polyline points="228.5,20.7 236.0,24.4 240.2,21.0" fill="none" stroke="#ffffff" stroke-width="1.83" stroke-linejoin="round" stroke-linecap="round" stroke-opacity="0.45" stroke-dasharray="0.01 3.33"/>
<polyline points="227.2,46.0 234.1,41.4 240.2,38.0" fill="none" stroke="#2e16f2" stroke-width="4.6" stroke-linejoin="round" stroke-linecap="round"/>
<polyline points="227.2,46.0 234.1,41.4 240.2,38.0" fill="none" stroke="#ffffff" stroke-width="1.5999999999999996" stroke-linejoin="round" stroke-linecap="round" stroke-opacity="0.45" stroke-dasharray="0.01 3.10"/>
<polyline points="229.2,31.0 235.2,34.0 240.2,30.0" fill="none" stroke="#2e16f2" stroke-width="4.369999999999999" stroke-linejoin="round" stroke-linecap="round"/>
<polyline points="229.2,31.0 235.2,34.0 240.2,30.0" fill="none" stroke="#ffffff" stroke-width="1.3699999999999992" stroke-linejoin="round" stroke-linecap="round" stroke-opacity="0.45" stroke-dasharray="0.01 2.87"/>
<polyline points="202.2,19.0 210.5,24.0 217.2,19.0" fill="none" stroke="#9a9a9a" stroke-width="0.6" stroke-linejoin="round" stroke-linecap="round"/>
<polyline points="202.2,19.0 210.5,24.0 217.2,19.0" fill="none" stroke="#df7a26" stroke-width="2.08" stroke-linejoin="round" stroke-linecap="round" stroke-dasharray="0.01 2.16"/>
<polyline points="210.5,39.5 215.2,30.0 221.2,19.0" fill="none" stroke="#9a9a9a" stroke-width="0.6" stroke-linejoin="round" stroke-linecap="round"/>
<polyline points="210.5,39.5 215.2,30.0 221.2,19.0" fill="none" stroke="#df7a26" stroke-width="1.9500000000000002" stroke-linejoin="round" stroke-linecap="round" stroke-dasharray="0.01 2.03"/>
</g>
<line x1="181.24" y1="179.60" x2="185.24" y2="179.60" stroke="#444" stroke-width="0.9"/>
<line x1="181.24" y1="160.00" x2="183.74" y2="160.00" stroke="#444" stroke-width="0.9"/>
<line x1="181.24" y1="140.40" x2="185.24" y2="140.40" stroke="#444" stroke-width="0.9"/>
<line x1="181.24" y1="120.80" x2="183.74" y2="120.80" stroke="#444" stroke-width="0.9"/>
<line x1="181.24" y1="101.20" x2="185.24" y2="101.20" stroke="#444" stroke-width="0.9"/>
<line x1="181.24" y1="81.60" x2="183.74" y2="81.60" stroke="#444" stroke-width="0.9"/>
<line x1="181.24" y1="62.00" x2="185.24" y2="62.00" stroke="#444" stroke-width="0.9"/>
<line x1="181.24" y1="42.40" x2="183.74" y2="42.40" stroke="#444" stroke-width="0.9"/>
<line x1="181.24" y1="22.80" x2="185.24" y2="22.80" stroke="#444" stroke-width="0.9"/>
<rect x="181.24" y="18.6" width="59.2" height="164.70000000000002" fill="none" stroke="#4a4a4a" stroke-width="1"/>
<text x="182.24" y="191.8" text-anchor="middle" font-family="Liberation Serif, serif" font-size="9.5" fill="#222">Γ</text>
<text x="197.34" y="191.8" text-anchor="middle" font-family="Liberation Serif, serif" font-weight="bold" font-size="9" fill="#111">X</text>
<text x="212.14" y="191.8" text-anchor="middle" font-family="Liberation Serif, serif" font-weight="bold" font-size="9" fill="#111">M</text>
<text x="227.23" y="191.8" text-anchor="middle" font-family="Liberation Serif, serif" font-weight="bold" font-size="9" fill="#111">Y</text>
<text x="241.44" y="191.8" text-anchor="middle" font-family="Liberation Serif, serif" font-size="9.5" fill="#222">Γ</text>
</g>
<g>
<rect x="256.65999999999997" y="18.6" width="59.2" height="164.70000000000002" fill="#fff"/>
<line x1="271.76" y1="18.6" x2="271.76" y2="183.3" stroke="#c4c4c4" stroke-width="1"/>
<line x1="286.56" y1="18.6" x2="286.56" y2="183.3" stroke="#c4c4c4" stroke-width="1"/>
<line x1="301.65" y1="18.6" x2="301.65" y2="183.3" stroke="#c4c4c4" stroke-width="1"/>
<clipPath id="cp3"><rect x="256.65999999999997" y="18.6" width="59.2" height="164.70000000000002"/></clipPath>
<g clip-path="url(#cp3)">
<polygon points="256.7,165.0 266.7,163.0 276.2,161.0 286.7,162.0 296.7,164.0 306.7,166.0 316.7,167.0 316.7,184.0 256.7,184.0" fill="#df7a26" fill-opacity="0.85"/>
<polyline points="256.7,170.0 266.7,172.0 276.7,168.0 286.7,171.0 296.7,168.0 306.7,171.0 316.7,170.0" fill="none" stroke="#9a9a9a" stroke-width="0.6" stroke-linejoin="round" stroke-linecap="round"/>
<polyline points="256.7,170.0 266.7,172.0 276.7,168.0 286.7,171.0 296.7,168.0 306.7,171.0 316.7,170.0" fill="none" stroke="#df7a26" stroke-width="3.9000000000000004" stroke-linejoin="round" stroke-linecap="round" stroke-dasharray="0.01 4.05"/>
<polyline points="256.7,177.0 268.7,179.0 280.7,175.0 292.7,178.0 304.7,176.0 316.7,178.0" fill="none" stroke="#9a9a9a" stroke-width="0.6" stroke-linejoin="round" stroke-linecap="round"/>
<polyline points="256.7,177.0 268.7,179.0 280.7,175.0 292.7,178.0 304.7,176.0 316.7,178.0" fill="none" stroke="#df7a26" stroke-width="3.9000000000000004" stroke-linejoin="round" stroke-linecap="round" stroke-dasharray="0.01 4.05"/>
<polyline points="256.7,167.0 271.7,168.0 286.7,166.0 301.7,169.0 316.7,170.0" fill="none" stroke="#ffffff" stroke-width="1.3" stroke-linejoin="round" stroke-linecap="round" stroke-opacity="0.75" stroke-dasharray="3 2.2 1.2 3"/>
<polyline points="259.7,174.0 274.7,173.0 289.7,175.0 304.7,173.0 316.7,175.0" fill="none" stroke="#ffffff" stroke-width="1.3" stroke-linejoin="round" stroke-linecap="round" stroke-opacity="0.75" stroke-dasharray="3 2.2 1.2 3"/>
<polyline points="257.7,181.0 272.7,180.0 287.7,182.0 302.7,180.0 316.7,181.0" fill="none" stroke="#ffffff" stroke-width="1.3" stroke-linejoin="round" stroke-linecap="round" stroke-opacity="0.75" stroke-dasharray="3 2.2 1.2 3"/>
<polyline points="267.7,149.0 270.5,134.0 273.3,128.3 280.9,124.5 285.6,113.2 288.4,118.9 290.3,134.0 293.2,141.5 296.0,147.2" fill="none" stroke="#9a9a9a" stroke-width="0.6" stroke-linejoin="round" stroke-linecap="round"/>
<polyline points="267.7,149.0 270.5,134.0 273.3,128.3 280.9,124.5 285.6,113.2 288.4,118.9 290.3,134.0 293.2,141.5 296.0,147.2" fill="none" stroke="#df7a26" stroke-width="3.12" stroke-linejoin="round" stroke-linecap="round" stroke-dasharray="0.01 3.24"/>
<polyline points="269.6,140.6 275.2,136.8 285.6,124.5 289.4,128.3 291.3,139.6" fill="none" stroke="#9a9a9a" stroke-width="0.6" stroke-linejoin="round" stroke-linecap="round"/>
<polyline points="269.6,140.6 275.2,136.8 285.6,124.5 289.4,128.3 291.3,139.6" fill="none" stroke="#df7a26" stroke-width="3.12" stroke-linejoin="round" stroke-linecap="round" stroke-dasharray="0.01 3.24"/>
<polyline points="266.8,153.5 276.7,153.0 289.9,154.0" fill="none" stroke="#9a9a9a" stroke-width="0.6" stroke-linejoin="round" stroke-linecap="round"/>
<polyline points="266.8,153.5 276.7,153.0 289.9,154.0" fill="none" stroke="#df7a26" stroke-width="4.42" stroke-linejoin="round" stroke-linecap="round" stroke-dasharray="0.01 4.59"/>
<polyline points="257.3,145.3 267.7,148.0" fill="none" stroke="#9a9a9a" stroke-width="0.6" stroke-linejoin="round" stroke-linecap="round"/>
<polyline points="257.3,145.3 267.7,148.0" fill="none" stroke="#df7a26" stroke-width="3.3800000000000003" stroke-linejoin="round" stroke-linecap="round" stroke-dasharray="0.01 3.51"/>
<polyline points="292.0,158.0 300.7,159.0 308.7,161.0" fill="none" stroke="#9a9a9a" stroke-width="0.6" stroke-linejoin="round" stroke-linecap="round"/>
<polyline points="292.0,158.0 300.7,159.0 308.7,161.0" fill="none" stroke="#df7a26" stroke-width="4.16" stroke-linejoin="round" stroke-linecap="round" stroke-dasharray="0.01 4.32"/>
<polyline points="258.4,143.1 262.7,146.0 267.9,149.4" fill="none" stroke="#2e16f2" stroke-width="4.369999999999999" stroke-linejoin="round" stroke-linecap="round"/>
<polyline points="258.4,143.1 262.7,146.0 267.9,149.4" fill="none" stroke="#ffffff" stroke-width="1.3699999999999992" stroke-linejoin="round" stroke-linecap="round" stroke-opacity="0.45" stroke-dasharray="0.01 2.87"/>
<polyline points="258.4,158.9 263.7,161.0 270.0,168.5 275.2,161.0 281.5,156.8 289.9,155.7 294.1,152.6 300.4,147.3 305.6,144.2 312.9,146.3 315.7,144.0" fill="none" stroke="#2e16f2" stroke-width="5.75" stroke-linejoin="round" stroke-linecap="round"/>
<polyline points="258.4,158.9 263.7,161.0 270.0,168.5 275.2,161.0 281.5,156.8 289.9,155.7 294.1,152.6 300.4,147.3 305.6,144.2 312.9,146.3 315.7,144.0" fill="none" stroke="#ffffff" stroke-width="2.75" stroke-linejoin="round" stroke-linecap="round" stroke-opacity="0.45" stroke-dasharray="0.01 4.25"/>
<polyline points="257.7,163.0 261.7,168.0 266.7,170.0 270.7,165.0" fill="none" stroke="#2e16f2" stroke-width="4.369999999999999" stroke-linejoin="round" stroke-linecap="round"/>
<polyline points="257.7,163.0 261.7,168.0 266.7,170.0 270.7,165.0" fill="none" stroke="#ffffff" stroke-width="1.3699999999999992" stroke-linejoin="round" stroke-linecap="round" stroke-opacity="0.45" stroke-dasharray="0.01 2.87"/>
<polyline points="307.3,147.0 310.7,155.0 312.9,166.2 313.7,172.0" fill="none" stroke="#2e16f2" stroke-width="4.6" stroke-linejoin="round" stroke-linecap="round"/>
<polyline points="307.3,147.0 310.7,155.0 312.9,166.2 313.7,172.0" fill="none" stroke="#ffffff" stroke-width="1.5999999999999996" stroke-linejoin="round" stroke-linecap="round" stroke-opacity="0.45" stroke-dasharray="0.01 3.10"/>
<polyline points="271.0,174.6 271.0,179.8" fill="none" stroke="#2e16f2" stroke-width="4.83" stroke-linejoin="round" stroke-linecap="round"/>
<polyline points="271.0,174.6 271.0,179.8" fill="none" stroke="#ffffff" stroke-width="1.83" stroke-linejoin="round" stroke-linecap="round" stroke-opacity="0.45" stroke-dasharray="0.01 3.33"/>
<polyline points="311.7,173.0 312.7,176.0" fill="none" stroke="#2e16f2" stroke-width="4.14" stroke-linejoin="round" stroke-linecap="round"/>
<polyline points="311.7,173.0 312.7,176.0" fill="none" stroke="#ffffff" stroke-width="1.1399999999999997" stroke-linejoin="round" stroke-linecap="round" stroke-opacity="0.45" stroke-dasharray="0.01 2.64"/>
<polyline points="257.3,64.0 263.9,56.5 269.6,50.8 277.1,49.0 281.8,51.8 282.8,58.4 285.6,64.0" fill="none" stroke="#2e16f2" stroke-width="4.83" stroke-linejoin="round" stroke-linecap="round"/>
<polyline points="257.3,64.0 263.9,56.5 269.6,50.8 277.1,49.0 281.8,51.8 282.8,58.4 285.6,64.0" fill="none" stroke="#ffffff" stroke-width="1.83" stroke-linejoin="round" stroke-linecap="round" stroke-opacity="0.45" stroke-dasharray="0.01 3.33"/>
<polyline points="258.2,39.5 262.0,50.8 267.7,60.3 273.3,65.9 280.9,67.8 288.4,67.8 294.1,61.2 299.8,57.5 303.5,58.4 307.3,67.8 310.1,73.5 313.9,64.0 315.7,60.0" fill="none" stroke="#2e16f2" stroke-width="4.83" stroke-linejoin="round" stroke-linecap="round"/>
<polyline points="258.2,39.5 262.0,50.8 267.7,60.3 273.3,65.9 280.9,67.8 288.4,67.8 294.1,61.2 299.8,57.5 303.5,58.4 307.3,67.8 310.1,73.5 313.9,64.0 315.7,60.0" fill="none" stroke="#ffffff" stroke-width="1.83" stroke-linejoin="round" stroke-linecap="round" stroke-opacity="0.45" stroke-dasharray="0.01 3.33"/>
<polyline points="256.7,62.0 261.7,64.0 266.7,60.0" fill="none" stroke="#2e16f2" stroke-width="4.369999999999999" stroke-linejoin="round" stroke-linecap="round"/>
<polyline points="256.7,62.0 261.7,64.0 266.7,60.0" fill="none" stroke="#ffffff" stroke-width="1.3699999999999992" stroke-linejoin="round" stroke-linecap="round" stroke-opacity="0.45" stroke-dasharray="0.01 2.87"/>
<polyline points="260.1,20.7 267.7,28.2 275.2,37.6 282.8,43.3 288.4,43.3 296.0,35.8 301.7,28.2 309.2,24.4 315.7,22.0" fill="none" stroke="#2e16f2" stroke-width="5.06" stroke-linejoin="round" stroke-linecap="round"/>
<polyline points="260.1,20.7 267.7,28.2 275.2,37.6 282.8,43.3 288.4,43.3 296.0,35.8 301.7,28.2 309.2,24.4 315.7,22.0" fill="none" stroke="#ffffff" stroke-width="2.0599999999999996" stroke-linejoin="round" stroke-linecap="round" stroke-opacity="0.45" stroke-dasharray="0.01 3.56"/>
<polyline points="273.3,20.7 279.0,30.1 282.8,39.5" fill="none" stroke="#2e16f2" stroke-width="4.83" stroke-linejoin="round" stroke-linecap="round"/>
<polyline points="273.3,20.7 279.0,30.1 282.8,39.5" fill="none" stroke="#ffffff" stroke-width="1.83" stroke-linejoin="round" stroke-linecap="round" stroke-opacity="0.45" stroke-dasharray="0.01 3.33"/>
<polyline points="305.4,26.3 311.1,37.6 315.7,46.0" fill="none" stroke="#2e16f2" stroke-width="4.6" stroke-linejoin="round" stroke-linecap="round"/>
<polyline points="305.4,26.3 311.1,37.6 315.7,46.0" fill="none" stroke="#ffffff" stroke-width="1.5999999999999996" stroke-linejoin="round" stroke-linecap="round" stroke-opacity="0.45" stroke-dasharray="0.01 3.10"/>
<polyline points="301.7,50.8 308.7,47.0 314.7,54.0 315.7,60.0" fill="none" stroke="#2e16f2" stroke-width="4.6" stroke-linejoin="round" stroke-linecap="round"/>
<polyline points="301.7,50.8 308.7,47.0 314.7,54.0 315.7,60.0" fill="none" stroke="#ffffff" stroke-width="1.5999999999999996" stroke-linejoin="round" stroke-linecap="round" stroke-opacity="0.45" stroke-dasharray="0.01 3.10"/>
<polyline points="301.7,33.9 303.5,47.1" fill="none" stroke="#2e16f2" stroke-width="4.369999999999999" stroke-linejoin="round" stroke-linecap="round"/>
<polyline points="301.7,33.9 303.5,47.1" fill="none" stroke="#ffffff" stroke-width="1.3699999999999992" stroke-linejoin="round" stroke-linecap="round" stroke-opacity="0.45" stroke-dasharray="0.01 2.87"/>
<polyline points="258.2,41.4 263.9,33.9 266.7,22.0" fill="none" stroke="#2e16f2" stroke-width="4.6" stroke-linejoin="round" stroke-linecap="round"/>
<polyline points="258.2,41.4 263.9,33.9 266.7,22.0" fill="none" stroke="#ffffff" stroke-width="1.5999999999999996" stroke-linejoin="round" stroke-linecap="round" stroke-opacity="0.45" stroke-dasharray="0.01 3.10"/>
<polyline points="296.7,19.0 306.7,20.0 315.7,19.0" fill="none" stroke="#2e16f2" stroke-width="4.369999999999999" stroke-linejoin="round" stroke-linecap="round"/>
<polyline points="296.7,19.0 306.7,20.0 315.7,19.0" fill="none" stroke="#ffffff" stroke-width="1.3699999999999992" stroke-linejoin="round" stroke-linecap="round" stroke-opacity="0.45" stroke-dasharray="0.01 2.87"/>
<polyline points="281.7,19.0 287.2,38.0 296.7,19.0" fill="none" stroke="#9a9a9a" stroke-width="0.6" stroke-linejoin="round" stroke-linecap="round"/>
<polyline points="281.7,19.0 287.2,38.0 296.7,19.0" fill="none" stroke="#df7a26" stroke-width="2.08" stroke-linejoin="round" stroke-linecap="round" stroke-dasharray="0.01 2.16"/>
<polyline points="285.7,19.0 288.2,30.0 292.7,19.0" fill="none" stroke="#9a9a9a" stroke-width="0.6" stroke-linejoin="round" stroke-linecap="round"/>
<polyline points="285.7,19.0 288.2,30.0 292.7,19.0" fill="none" stroke="#df7a26" stroke-width="1.9500000000000002" stroke-linejoin="round" stroke-linecap="round" stroke-dasharray="0.01 2.03"/>
</g>
<line x1="256.65999999999997" y1="179.60" x2="260.65999999999997" y2="179.60" stroke="#444" stroke-width="0.9"/>
<line x1="256.65999999999997" y1="160.00" x2="259.15999999999997" y2="160.00" stroke="#444" stroke-width="0.9"/>
<line x1="256.65999999999997" y1="140.40" x2="260.65999999999997" y2="140.40" stroke="#444" stroke-width="0.9"/>
<line x1="256.65999999999997" y1="120.80" x2="259.15999999999997" y2="120.80" stroke="#444" stroke-width="0.9"/>
<line x1="256.65999999999997" y1="101.20" x2="260.65999999999997" y2="101.20" stroke="#444" stroke-width="0.9"/>
<line x1="256.65999999999997" y1="81.60" x2="259.15999999999997" y2="81.60" stroke="#444" stroke-width="0.9"/>
<line x1="256.65999999999997" y1="62.00" x2="260.65999999999997" y2="62.00" stroke="#444" stroke-width="0.9"/>
<line x1="256.65999999999997" y1="42.40" x2="259.15999999999997" y2="42.40" stroke="#444" stroke-width="0.9"/>
<line x1="256.65999999999997" y1="22.80" x2="260.65999999999997" y2="22.80" stroke="#444" stroke-width="0.9"/>
<rect x="256.65999999999997" y="18.6" width="59.2" height="164.70000000000002" fill="none" stroke="#4a4a4a" stroke-width="1"/>
<text x="257.66" y="191.8" text-anchor="middle" font-family="Liberation Serif, serif" font-size="9.5" fill="#222">Γ</text>
<text x="272.76" y="191.8" text-anchor="middle" font-family="Liberation Serif, serif" font-weight="bold" font-size="9" fill="#111">X</text>
<text x="287.56" y="191.8" text-anchor="middle" font-family="Liberation Serif, serif" font-weight="bold" font-size="9" fill="#111">M</text>
<text x="302.65" y="191.8" text-anchor="middle" font-family="Liberation Serif, serif" font-weight="bold" font-size="9" fill="#111">Y</text>
<text x="316.86" y="191.8" text-anchor="middle" font-family="Liberation Serif, serif" font-size="9.5" fill="#222">Γ</text>
</g>
<g>
<rect x="332.08" y="18.6" width="59.2" height="164.70000000000002" fill="#fff"/>
<line x1="347.18" y1="18.6" x2="347.18" y2="183.3" stroke="#c4c4c4" stroke-width="1"/>
<line x1="361.98" y1="18.6" x2="361.98" y2="183.3" stroke="#c4c4c4" stroke-width="1"/>
<line x1="377.07" y1="18.6" x2="377.07" y2="183.3" stroke="#c4c4c4" stroke-width="1"/>
<clipPath id="cp4"><rect x="332.08" y="18.6" width="59.2" height="164.70000000000002"/></clipPath>
<g clip-path="url(#cp4)">
<polyline points="342.7,183.0 346.4,171.7 354.0,166.0 360.6,160.4 361.5,145.3 364.4,156.6 366.3,168.0 369.1,181.1" fill="none" stroke="#9a9a9a" stroke-width="0.6" stroke-linejoin="round" stroke-linecap="round"/>
<polyline points="342.7,183.0 346.4,171.7 354.0,166.0 360.6,160.4 361.5,145.3 364.4,156.6 366.3,168.0 369.1,181.1" fill="none" stroke="#df7a26" stroke-width="3.12" stroke-linejoin="round" stroke-linecap="round" stroke-dasharray="0.01 3.24"/>
<polyline points="357.8,149.0 360.1,146.0" fill="none" stroke="#9a9a9a" stroke-width="0.6" stroke-linejoin="round" stroke-linecap="round"/>
<polyline points="357.8,149.0 360.1,146.0" fill="none" stroke="#df7a26" stroke-width="2.6" stroke-linejoin="round" stroke-linecap="round" stroke-dasharray="0.01 2.70"/>
<polyline points="365.1,160.4 374.7,162.0 382.1,171.7 389.8,175.5" fill="none" stroke="#777" stroke-width="0.7" stroke-linejoin="round" stroke-linecap="round"/>
<polyline points="367.1,177.0 376.6,175.5 389.8,177.0" fill="none" stroke="#777" stroke-width="0.7" stroke-linejoin="round" stroke-linecap="round"/>
<polyline points="372.1,178.0 382.1,176.5 390.1,177.0" fill="none" stroke="#2e16f2" stroke-width="1.288" stroke-linejoin="round" stroke-linecap="round"/>
<polyline points="372.1,178.0 382.1,176.5 390.1,177.0" fill="none" stroke="#ffffff" stroke-width="0.8" stroke-linejoin="round" stroke-linecap="round" stroke-opacity="0.45" stroke-dasharray="0.01 2.30"/>
<polyline points="333.2,134.0 338.9,137.7 342.7,145.3 346.4,156.6 348.3,164.2 350.2,179.2" fill="none" stroke="#2e16f2" stroke-width="3.8639999999999994" stroke-linejoin="round" stroke-linecap="round"/>
<polyline points="333.2,134.0 338.9,137.7 342.7,145.3 346.4,156.6 348.3,164.2 350.2,179.2" fill="none" stroke="#ffffff" stroke-width="0.8639999999999994" stroke-linejoin="round" stroke-linecap="round" stroke-opacity="0.45" stroke-dasharray="0.01 2.36"/>
<polyline points="333.2,150.9 338.9,152.8 344.5,160.4 348.1,157.0 354.0,151.9 359.6,150.9 365.3,153.8 371.0,149.0 376.6,140.6 384.2,134.9 389.8,134.0" fill="none" stroke="#2e16f2" stroke-width="3.8639999999999994" stroke-linejoin="round" stroke-linecap="round"/>
<polyline points="333.2,150.9 338.9,152.8 344.5,160.4 348.1,157.0 354.0,151.9 359.6,150.9 365.3,153.8 371.0,149.0 376.6,140.6 384.2,134.9 389.8,134.0" fill="none" stroke="#ffffff" stroke-width="0.8639999999999994" stroke-linejoin="round" stroke-linecap="round" stroke-opacity="0.45" stroke-dasharray="0.01 2.36"/>
<polyline points="333.2,156.6 342.7,164.2 345.1,167.0" fill="none" stroke="#2e16f2" stroke-width="3.4959999999999996" stroke-linejoin="round" stroke-linecap="round"/>
<polyline points="333.2,156.6 342.7,164.2 345.1,167.0" fill="none" stroke="#ffffff" stroke-width="0.8" stroke-linejoin="round" stroke-linecap="round" stroke-opacity="0.45" stroke-dasharray="0.01 2.30"/>
<polyline points="357.8,153.8 365.3,160.4 371.0,156.6 376.6,145.3 382.3,140.6 387.9,143.4 390.1,148.0" fill="none" stroke="#2e16f2" stroke-width="3.6799999999999997" stroke-linejoin="round" stroke-linecap="round"/>
<polyline points="357.8,153.8 365.3,160.4 371.0,156.6 376.6,145.3 382.3,140.6 387.9,143.4 390.1,148.0" fill="none" stroke="#ffffff" stroke-width="0.8" stroke-linejoin="round" stroke-linecap="round" stroke-opacity="0.45" stroke-dasharray="0.01 2.30"/>
<polyline points="374.7,149.0 380.4,156.6 386.0,166.0 389.1,160.0" fill="none" stroke="#2e16f2" stroke-width="3.6799999999999997" stroke-linejoin="round" stroke-linecap="round"/>
<polyline points="374.7,149.0 380.4,156.6 386.0,166.0 389.1,160.0" fill="none" stroke="#ffffff" stroke-width="0.8" stroke-linejoin="round" stroke-linecap="round" stroke-opacity="0.45" stroke-dasharray="0.01 2.30"/>
<polyline points="332.1,180.0 340.1,181.0 346.1,178.0 350.1,182.0" fill="none" stroke="#2e16f2" stroke-width="3.4959999999999996" stroke-linejoin="round" stroke-linecap="round"/>
<polyline points="332.1,180.0 340.1,181.0 346.1,178.0 350.1,182.0" fill="none" stroke="#ffffff" stroke-width="0.8" stroke-linejoin="round" stroke-linecap="round" stroke-opacity="0.45" stroke-dasharray="0.01 2.30"/>
<polyline points="340.8,20.7 350.1,45.0 360.6,73.5 370.1,50.0 378.5,30.1" fill="none" stroke="#9a9a9a" stroke-width="0.6" stroke-linejoin="round" stroke-linecap="round"/>
<polyline points="340.8,20.7 350.1,45.0 360.6,73.5 370.1,50.0 378.5,30.1" fill="none" stroke="#df7a26" stroke-width="1.56" stroke-linejoin="round" stroke-linecap="round" stroke-dasharray="0.01 1.62"/>
<polyline points="344.1,22.0 352.1,38.0 359.6,52.7 368.1,44.0 376.6,37.6" fill="none" stroke="#9a9a9a" stroke-width="0.6" stroke-linejoin="round" stroke-linecap="round"/>
<polyline points="344.1,22.0 352.1,38.0 359.6,52.7 368.1,44.0 376.6,37.6" fill="none" stroke="#df7a26" stroke-width="1.56" stroke-linejoin="round" stroke-linecap="round" stroke-dasharray="0.01 1.62"/>
<polyline points="350.1,19.0 360.6,33.9 369.1,19.0" fill="none" stroke="#9a9a9a" stroke-width="0.6" stroke-linejoin="round" stroke-linecap="round"/>
<polyline points="350.1,19.0 360.6,33.9 369.1,19.0" fill="none" stroke="#df7a26" stroke-width="1.4300000000000002" stroke-linejoin="round" stroke-linecap="round" stroke-dasharray="0.01 1.49"/>
<polyline points="332.3,59.3 338.9,52.7 346.4,46.1 354.0,43.3 357.8,46.1 360.1,52.0" fill="none" stroke="#2e16f2" stroke-width="4.83" stroke-linejoin="round" stroke-linecap="round"/>
<polyline points="332.3,59.3 338.9,52.7 346.4,46.1 354.0,43.3 357.8,46.1 360.1,52.0" fill="none" stroke="#ffffff" stroke-width="1.83" stroke-linejoin="round" stroke-linecap="round" stroke-opacity="0.45" stroke-dasharray="0.01 3.33"/>
<polyline points="332.1,45.0 337.0,52.7 342.7,58.4 352.1,62.2 361.5,65.0 367.2,62.2 372.9,57.5 378.5,56.5 382.3,62.2 384.2,67.8 388.9,60.3 391.1,56.0" fill="none" stroke="#2e16f2" stroke-width="5.06" stroke-linejoin="round" stroke-linecap="round"/>
<polyline points="332.1,45.0 337.0,52.7 342.7,58.4 352.1,62.2 361.5,65.0 367.2,62.2 372.9,57.5 378.5,56.5 382.3,62.2 384.2,67.8 388.9,60.3 391.1,56.0" fill="none" stroke="#ffffff" stroke-width="2.0599999999999996" stroke-linejoin="round" stroke-linecap="round" stroke-opacity="0.45" stroke-dasharray="0.01 3.56"/>
<polyline points="332.3,20.7 340.8,28.2 350.2,33.9 357.8,37.6 363.4,37.6 371.0,30.1 378.5,24.4 386.1,22.5 391.1,21.0" fill="none" stroke="#2e16f2" stroke-width="5.06" stroke-linejoin="round" stroke-linecap="round"/>
<polyline points="332.3,20.7 340.8,28.2 350.2,33.9 357.8,37.6 363.4,37.6 371.0,30.1 378.5,24.4 386.1,22.5 391.1,21.0" fill="none" stroke="#ffffff" stroke-width="2.0599999999999996" stroke-linejoin="round" stroke-linecap="round" stroke-opacity="0.45" stroke-dasharray="0.01 3.56"/>
<polyline points="332.3,33.9 338.9,24.4 341.1,19.5" fill="none" stroke="#2e16f2" stroke-width="4.83" stroke-linejoin="round" stroke-linecap="round"/>
<polyline points="332.3,33.9 338.9,24.4 341.1,19.5" fill="none" stroke="#ffffff" stroke-width="1.83" stroke-linejoin="round" stroke-linecap="round" stroke-opacity="0.45" stroke-dasharray="0.01 3.33"/>
<polyline points="357.8,46.1 361.5,48.0 371.0,51.8 376.6,50.8 384.2,58.4 391.1,62.0" fill="none" stroke="#2e16f2" stroke-width="4.6" stroke-linejoin="round" stroke-linecap="round"/>
<polyline points="357.8,46.1 361.5,48.0 371.0,51.8 376.6,50.8 384.2,58.4 391.1,62.0" fill="none" stroke="#ffffff" stroke-width="1.5999999999999996" stroke-linejoin="round" stroke-linecap="round" stroke-opacity="0.45" stroke-dasharray="0.01 3.10"/>
<polyline points="382.3,30.1 388.9,39.5 391.1,44.0" fill="none" stroke="#2e16f2" stroke-width="4.6" stroke-linejoin="round" stroke-linecap="round"/>
<polyline points="382.3,30.1 388.9,39.5 391.1,44.0" fill="none" stroke="#ffffff" stroke-width="1.5999999999999996" stroke-linejoin="round" stroke-linecap="round" stroke-opacity="0.45" stroke-dasharray="0.01 3.10"/>
<polyline points="376.6,51.0 384.2,43.3 391.1,35.0" fill="none" stroke="#2e16f2" stroke-width="4.369999999999999" stroke-linejoin="round" stroke-linecap="round"/>
<polyline points="376.6,51.0 384.2,43.3 391.1,35.0" fill="none" stroke="#ffffff" stroke-width="1.3699999999999992" stroke-linejoin="round" stroke-linecap="round" stroke-opacity="0.45" stroke-dasharray="0.01 2.87"/>
<polyline points="346.1,19.5 356.1,20.0 366.1,19.5" fill="none" stroke="#2e16f2" stroke-width="4.369999999999999" stroke-linejoin="round" stroke-linecap="round"/>
<polyline points="346.1,19.5 356.1,20.0 366.1,19.5" fill="none" stroke="#ffffff" stroke-width="1.3699999999999992" stroke-linejoin="round" stroke-linecap="round" stroke-opacity="0.45" stroke-dasharray="0.01 2.87"/>
</g>
<line x1="332.08" y1="179.60" x2="336.08" y2="179.60" stroke="#444" stroke-width="0.9"/>
<line x1="332.08" y1="160.00" x2="334.58" y2="160.00" stroke="#444" stroke-width="0.9"/>
<line x1="332.08" y1="140.40" x2="336.08" y2="140.40" stroke="#444" stroke-width="0.9"/>
<line x1="332.08" y1="120.80" x2="334.58" y2="120.80" stroke="#444" stroke-width="0.9"/>
<line x1="332.08" y1="101.20" x2="336.08" y2="101.20" stroke="#444" stroke-width="0.9"/>
<line x1="332.08" y1="81.60" x2="334.58" y2="81.60" stroke="#444" stroke-width="0.9"/>
<line x1="332.08" y1="62.00" x2="336.08" y2="62.00" stroke="#444" stroke-width="0.9"/>
<line x1="332.08" y1="42.40" x2="334.58" y2="42.40" stroke="#444" stroke-width="0.9"/>
<line x1="332.08" y1="22.80" x2="336.08" y2="22.80" stroke="#444" stroke-width="0.9"/>
<rect x="332.08" y="18.6" width="59.2" height="164.70000000000002" fill="none" stroke="#4a4a4a" stroke-width="1"/>
<text x="333.08" y="191.8" text-anchor="middle" font-family="Liberation Serif, serif" font-size="9.5" fill="#222">Γ</text>
<text x="348.18" y="191.8" text-anchor="middle" font-family="Liberation Serif, serif" font-weight="bold" font-size="9" fill="#111">X</text>
<text x="362.98" y="191.8" text-anchor="middle" font-family="Liberation Serif, serif" font-weight="bold" font-size="9" fill="#111">M</text>
<text x="378.07" y="191.8" text-anchor="middle" font-family="Liberation Serif, serif" font-weight="bold" font-size="9" fill="#111">Y</text>
<text x="392.28" y="191.8" text-anchor="middle" font-family="Liberation Serif, serif" font-size="9.5" fill="#222">Γ</text>
</g>
<g>
<rect x="407.5" y="18.6" width="59.2" height="164.70000000000002" fill="#fff"/>
<line x1="422.60" y1="18.6" x2="422.60" y2="183.3" stroke="#c4c4c4" stroke-width="1"/>
<line x1="437.40" y1="18.6" x2="437.40" y2="183.3" stroke="#c4c4c4" stroke-width="1"/>
<line x1="452.49" y1="18.6" x2="452.49" y2="183.3" stroke="#c4c4c4" stroke-width="1"/>
<clipPath id="cp5"><rect x="407.5" y="18.6" width="59.2" height="164.70000000000002"/></clipPath>
<g clip-path="url(#cp5)">
<polygon points="407.5,170.0 419.5,172.0 427.5,168.0 437.5,165.0 447.5,167.0 457.5,170.0 467.5,169.0 467.5,184.0 407.5,184.0" fill="#df7a26" fill-opacity="0.85"/>
<polyline points="407.5,173.0 419.5,175.0 431.5,170.0 443.5,172.0 455.5,174.0 467.5,172.0" fill="none" stroke="#9a9a9a" stroke-width="0.6" stroke-linejoin="round" stroke-linecap="round"/>
<polyline points="407.5,173.0 419.5,175.0 431.5,170.0 443.5,172.0 455.5,174.0 467.5,172.0" fill="none" stroke="#df7a26" stroke-width="3.9000000000000004" stroke-linejoin="round" stroke-linecap="round" stroke-dasharray="0.01 4.05"/>
<polyline points="407.5,180.0 419.5,182.0 431.5,178.0 443.5,181.0 455.5,178.0 467.5,181.0" fill="none" stroke="#9a9a9a" stroke-width="0.6" stroke-linejoin="round" stroke-linecap="round"/>
<polyline points="407.5,180.0 419.5,182.0 431.5,178.0 443.5,181.0 455.5,178.0 467.5,181.0" fill="none" stroke="#df7a26" stroke-width="3.9000000000000004" stroke-linejoin="round" stroke-linecap="round" stroke-dasharray="0.01 4.05"/>
<polyline points="407.5,172.0 422.5,173.0 437.5,170.0 452.5,172.0 467.5,173.0" fill="none" stroke="#ffffff" stroke-width="1.3" stroke-linejoin="round" stroke-linecap="round" stroke-opacity="0.75" stroke-dasharray="3 2.2 1.2 3"/>
<polyline points="410.5,177.5 425.5,177.0 440.5,178.5 455.5,177.0 467.5,178.0" fill="none" stroke="#ffffff" stroke-width="1.3" stroke-linejoin="round" stroke-linecap="round" stroke-opacity="0.75" stroke-dasharray="3 2.2 1.2 3"/>
<polyline points="408.5,182.5 423.5,182.0 438.5,182.5 453.5,182.0 467.5,182.5" fill="none" stroke="#ffffff" stroke-width="1.2" stroke-linejoin="round" stroke-linecap="round" stroke-opacity="0.75" stroke-dasharray="3 2.2 1.2 3"/>
<polyline points="417.5,156.0 418.6,150.0 420.5,139.6 423.3,130.2 430.9,126.4 434.6,117.9 437.5,114.2 439.3,120.8 441.2,134.0 444.1,147.2 447.8,149.0 455.4,147.2 464.8,150.0" fill="none" stroke="#9a9a9a" stroke-width="0.6" stroke-linejoin="round" stroke-linecap="round"/>
<polyline points="417.5,156.0 418.6,150.0 420.5,139.6 423.3,130.2 430.9,126.4 434.6,117.9 437.5,114.2 439.3,120.8 441.2,134.0 444.1,147.2 447.8,149.0 455.4,147.2 464.8,150.0" fill="none" stroke="#df7a26" stroke-width="3.12" stroke-linejoin="round" stroke-linecap="round" stroke-dasharray="0.01 3.24"/>
<polyline points="420.5,135.8 430.9,130.2 436.5,124.5 439.3,127.4 441.5,136.0" fill="none" stroke="#9a9a9a" stroke-width="0.6" stroke-linejoin="round" stroke-linecap="round"/>
<polyline points="420.5,135.8 430.9,130.2 436.5,124.5 439.3,127.4 441.5,136.0" fill="none" stroke="#df7a26" stroke-width="3.12" stroke-linejoin="round" stroke-linecap="round" stroke-dasharray="0.01 3.24"/>
<polyline points="419.5,155.0 431.5,155.5 442.2,157.5" fill="none" stroke="#9a9a9a" stroke-width="0.6" stroke-linejoin="round" stroke-linecap="round"/>
<polyline points="419.5,155.0 431.5,155.5 442.2,157.5" fill="none" stroke="#df7a26" stroke-width="4.9399999999999995" stroke-linejoin="round" stroke-linecap="round" stroke-dasharray="0.01 5.13"/>
<polyline points="408.2,149.0 415.8,151.0" fill="none" stroke="#9a9a9a" stroke-width="0.6" stroke-linejoin="round" stroke-linecap="round"/>
<polyline points="408.2,149.0 415.8,151.0" fill="none" stroke="#df7a26" stroke-width="3.3800000000000003" stroke-linejoin="round" stroke-linecap="round" stroke-dasharray="0.01 3.51"/>
<polyline points="442.2,162.3 451.6,160.4 464.5,164.0" fill="none" stroke="#9a9a9a" stroke-width="0.6" stroke-linejoin="round" stroke-linecap="round"/>
<polyline points="442.2,162.3 451.6,160.4 464.5,164.0" fill="none" stroke="#df7a26" stroke-width="3.6399999999999997" stroke-linejoin="round" stroke-linecap="round" stroke-dasharray="0.01 3.78"/>
<polyline points="408.2,162.3 415.8,165.0 421.4,171.7 429.0,162.3 438.4,160.4 445.9,156.6 451.6,151.0 457.3,147.2 462.9,149.0 465.5,153.0" fill="none" stroke="#2e16f2" stroke-width="5.06" stroke-linejoin="round" stroke-linecap="round"/>
<polyline points="408.2,162.3 415.8,165.0 421.4,171.7 429.0,162.3 438.4,160.4 445.9,156.6 451.6,151.0 457.3,147.2 462.9,149.0 465.5,153.0" fill="none" stroke="#ffffff" stroke-width="2.0599999999999996" stroke-linejoin="round" stroke-linecap="round" stroke-opacity="0.45" stroke-dasharray="0.01 3.56"/>
<polyline points="459.2,151.0 462.0,158.5 463.9,166.0" fill="none" stroke="#2e16f2" stroke-width="4.6" stroke-linejoin="round" stroke-linecap="round"/>
<polyline points="459.2,151.0 462.0,158.5 463.9,166.0" fill="none" stroke="#ffffff" stroke-width="1.5999999999999996" stroke-linejoin="round" stroke-linecap="round" stroke-opacity="0.45" stroke-dasharray="0.01 3.10"/>
<polyline points="408.2,152.8 413.9,156.6 417.5,164.0 419.5,171.0" fill="none" stroke="#2e16f2" stroke-width="4.6" stroke-linejoin="round" stroke-linecap="round"/>
<polyline points="408.2,152.8 413.9,156.6 417.5,164.0 419.5,171.0" fill="none" stroke="#ffffff" stroke-width="1.5999999999999996" stroke-linejoin="round" stroke-linecap="round" stroke-opacity="0.45" stroke-dasharray="0.01 3.10"/>
<polyline points="407.5,168.0 413.5,170.0 417.5,175.0" fill="none" stroke="#2e16f2" stroke-width="5.06" stroke-linejoin="round" stroke-linecap="round"/>
<polyline points="407.5,168.0 413.5,170.0 417.5,175.0" fill="none" stroke="#ffffff" stroke-width="2.0599999999999996" stroke-linejoin="round" stroke-linecap="round" stroke-opacity="0.45" stroke-dasharray="0.01 3.56"/>
<polyline points="408.2,60.3 413.9,52.7 417.6,43.3 422.4,37.6 428.0,40.5 431.8,48.0 434.6,58.4 436.5,63.0" fill="none" stroke="#2e16f2" stroke-width="5.06" stroke-linejoin="round" stroke-linecap="round"/>
<polyline points="408.2,60.3 413.9,52.7 417.6,43.3 422.4,37.6 428.0,40.5 431.8,48.0 434.6,58.4 436.5,63.0" fill="none" stroke="#ffffff" stroke-width="2.0599999999999996" stroke-linejoin="round" stroke-linecap="round" stroke-opacity="0.45" stroke-dasharray="0.01 3.56"/>
<polyline points="408.2,58.0 415.8,60.3 423.3,62.2 432.7,65.0 438.4,64.0 444.1,55.6 447.8,53.7 451.6,57.5 455.4,65.0 458.2,71.6 462.0,66.0 464.8,56.5 466.5,54.0" fill="none" stroke="#2e16f2" stroke-width="5.06" stroke-linejoin="round" stroke-linecap="round"/>
<polyline points="408.2,58.0 415.8,60.3 423.3,62.2 432.7,65.0 438.4,64.0 444.1,55.6 447.8,53.7 451.6,57.5 455.4,65.0 458.2,71.6 462.0,66.0 464.8,56.5 466.5,54.0" fill="none" stroke="#ffffff" stroke-width="2.0599999999999996" stroke-linejoin="round" stroke-linecap="round" stroke-opacity="0.45" stroke-dasharray="0.01 3.56"/>
<polyline points="408.2,22.5 413.9,24.4 421.4,24.4 427.1,30.1 432.7,33.9 438.4,33.9 444.1,28.2 449.7,22.5 457.3,20.7 466.5,22.5" fill="none" stroke="#2e16f2" stroke-width="5.06" stroke-linejoin="round" stroke-linecap="round"/>
<polyline points="408.2,22.5 413.9,24.4 421.4,24.4 427.1,30.1 432.7,33.9 438.4,33.9 444.1,28.2 449.7,22.5 457.3,20.7 466.5,22.5" fill="none" stroke="#ffffff" stroke-width="2.0599999999999996" stroke-linejoin="round" stroke-linecap="round" stroke-opacity="0.45" stroke-dasharray="0.01 3.56"/>
<polyline points="419.5,22.5 427.1,32.0 434.6,36.7 440.3,35.8 443.5,33.0" fill="none" stroke="#2e16f2" stroke-width="4.6" stroke-linejoin="round" stroke-linecap="round"/>
<polyline points="419.5,22.5 427.1,32.0 434.6,36.7 440.3,35.8 443.5,33.0" fill="none" stroke="#ffffff" stroke-width="1.5999999999999996" stroke-linejoin="round" stroke-linecap="round" stroke-opacity="0.45" stroke-dasharray="0.01 3.10"/>
<polyline points="408.2,33.9 412.0,43.3 414.5,50.0" fill="none" stroke="#2e16f2" stroke-width="4.6" stroke-linejoin="round" stroke-linecap="round"/>
<polyline points="408.2,33.9 412.0,43.3 414.5,50.0" fill="none" stroke="#ffffff" stroke-width="1.5999999999999996" stroke-linejoin="round" stroke-linecap="round" stroke-opacity="0.45" stroke-dasharray="0.01 3.10"/>
<polyline points="449.7,58.4 453.5,49.0 457.3,39.5 462.9,33.9 466.5,30.0" fill="none" stroke="#2e16f2" stroke-width="5.06" stroke-linejoin="round" stroke-linecap="round"/>
<polyline points="449.7,58.4 453.5,49.0 457.3,39.5 462.9,33.9 466.5,30.0" fill="none" stroke="#ffffff" stroke-width="2.0599999999999996" stroke-linejoin="round" stroke-linecap="round" stroke-opacity="0.45" stroke-dasharray="0.01 3.56"/>
<polyline points="453.5,31.0 453.5,33.0" fill="none" stroke="#2e16f2" stroke-width="3.4499999999999997" stroke-linejoin="round" stroke-linecap="round"/>
<polyline points="453.5,31.0 453.5,33.0" fill="none" stroke="#ffffff" stroke-width="0.8" stroke-linejoin="round" stroke-linecap="round" stroke-opacity="0.45" stroke-dasharray="0.01 2.30"/>
<polyline points="432.5,19.0 437.0,28.0 443.5,19.0" fill="none" stroke="#9a9a9a" stroke-width="0.6" stroke-linejoin="round" stroke-linecap="round"/>
<polyline points="432.5,19.0 437.0,28.0 443.5,19.0" fill="none" stroke="#df7a26" stroke-width="1.56" stroke-linejoin="round" stroke-linecap="round" stroke-dasharray="0.01 1.62"/>
</g>
<line x1="407.5" y1="179.60" x2="411.5" y2="179.60" stroke="#444" stroke-width="0.9"/>
<line x1="407.5" y1="160.00" x2="410.0" y2="160.00" stroke="#444" stroke-width="0.9"/>
<line x1="407.5" y1="140.40" x2="411.5" y2="140.40" stroke="#444" stroke-width="0.9"/>
<line x1="407.5" y1="120.80" x2="410.0" y2="120.80" stroke="#444" stroke-width="0.9"/>
<line x1="407.5" y1="101.20" x2="411.5" y2="101.20" stroke="#444" stroke-width="0.9"/>
<line x1="407.5" y1="81.60" x2="410.0" y2="81.60" stroke="#444" stroke-width="0.9"/>
<line x1="407.5" y1="62.00" x2="411.5" y2="62.00" stroke="#444" stroke-width="0.9"/>
<line x1="407.5" y1="42.40" x2="410.0" y2="42.40" stroke="#444" stroke-width="0.9"/>
<line x1="407.5" y1="22.80" x2="411.5" y2="22.80" stroke="#444" stroke-width="0.9"/>
<rect x="407.5" y="18.6" width="59.2" height="164.70000000000002" fill="none" stroke="#4a4a4a" stroke-width="1"/>
<text x="408.50" y="191.8" text-anchor="middle" font-family="Liberation Serif, serif" font-size="9.5" fill="#222">Γ</text>
<text x="423.60" y="191.8" text-anchor="middle" font-family="Liberation Serif, serif" font-weight="bold" font-size="9" fill="#111">X</text>
<text x="438.40" y="191.8" text-anchor="middle" font-family="Liberation Serif, serif" font-weight="bold" font-size="9" fill="#111">M</text>
<text x="453.49" y="191.8" text-anchor="middle" font-family="Liberation Serif, serif" font-weight="bold" font-size="9" fill="#111">Y</text>
<text x="467.70" y="191.8" text-anchor="middle" font-family="Liberation Serif, serif" font-size="9.5" fill="#222">Γ</text>
</g>
<g>
<rect x="482.91999999999996" y="18.6" width="59.2" height="164.70000000000002" fill="#fff"/>
<line x1="498.02" y1="18.6" x2="498.02" y2="183.3" stroke="#c4c4c4" stroke-width="1"/>
<line x1="512.82" y1="18.6" x2="512.82" y2="183.3" stroke="#c4c4c4" stroke-width="1"/>
<line x1="527.91" y1="18.6" x2="527.91" y2="183.3" stroke="#c4c4c4" stroke-width="1"/>
<clipPath id="cp6"><rect x="482.91999999999996" y="18.6" width="59.2" height="164.70000000000002"/></clipPath>
<g clip-path="url(#cp6)">
<polyline points="494.5,183.0 496.4,171.7 502.1,162.3 509.6,154.7 512.4,145.3 515.3,156.6 517.1,168.0 519.0,177.4 519.9,183.0" fill="none" stroke="#9a9a9a" stroke-width="0.6" stroke-linejoin="round" stroke-linecap="round"/>
<polyline points="494.5,183.0 496.4,171.7 502.1,162.3 509.6,154.7 512.4,145.3 515.3,156.6 517.1,168.0 519.0,177.4 519.9,183.0" fill="none" stroke="#df7a26" stroke-width="3.12" stroke-linejoin="round" stroke-linecap="round" stroke-dasharray="0.01 3.24"/>
<polyline points="508.9,151.0 512.4,148.0 514.9,151.0" fill="none" stroke="#9a9a9a" stroke-width="0.6" stroke-linejoin="round" stroke-linecap="round"/>
<polyline points="508.9,151.0 512.4,148.0 514.9,151.0" fill="none" stroke="#df7a26" stroke-width="2.8600000000000003" stroke-linejoin="round" stroke-linecap="round" stroke-dasharray="0.01 2.97"/>
<polyline points="516.9,162.0 524.9,163.0 529.9,170.0 534.9,175.0 541.9,176.0" fill="none" stroke="#777" stroke-width="0.7" stroke-linejoin="round" stroke-linecap="round"/>
<polyline points="517.9,176.0 524.9,178.0 532.9,177.0 541.9,178.0" fill="none" stroke="#777" stroke-width="0.7" stroke-linejoin="round" stroke-linecap="round"/>
<polyline points="484.1,134.9 488.9,137.7 492.6,147.2 496.4,158.5 498.3,171.7 498.3,181.1" fill="none" stroke="#2e16f2" stroke-width="4.048" stroke-linejoin="round" stroke-linecap="round"/>
<polyline points="484.1,134.9 488.9,137.7 492.6,147.2 496.4,158.5 498.3,171.7 498.3,181.1" fill="none" stroke="#ffffff" stroke-width="1.048" stroke-linejoin="round" stroke-linecap="round" stroke-opacity="0.45" stroke-dasharray="0.01 2.55"/>
<polyline points="484.1,142.5 490.7,146.2 493.9,152.0" fill="none" stroke="#2e16f2" stroke-width="3.4959999999999996" stroke-linejoin="round" stroke-linecap="round"/>
<polyline points="484.1,142.5 490.7,146.2 493.9,152.0" fill="none" stroke="#ffffff" stroke-width="0.8" stroke-linejoin="round" stroke-linecap="round" stroke-opacity="0.45" stroke-dasharray="0.01 2.30"/>
<polyline points="484.1,156.6 490.7,157.5 496.4,162.3 502.1,156.6 507.7,154.7 515.3,156.6 521.0,151.0 526.6,143.4 532.2,137.7 537.9,134.9 541.9,135.0" fill="none" stroke="#2e16f2" stroke-width="4.048" stroke-linejoin="round" stroke-linecap="round"/>
<polyline points="484.1,156.6 490.7,157.5 496.4,162.3 502.1,156.6 507.7,154.7 515.3,156.6 521.0,151.0 526.6,143.4 532.2,137.7 537.9,134.9 541.9,135.0" fill="none" stroke="#ffffff" stroke-width="1.048" stroke-linejoin="round" stroke-linecap="round" stroke-opacity="0.45" stroke-dasharray="0.01 2.55"/>
<polyline points="484.1,164.2 490.7,162.5 495.9,166.0" fill="none" stroke="#2e16f2" stroke-width="3.6799999999999997" stroke-linejoin="round" stroke-linecap="round"/>
<polyline points="484.1,164.2 490.7,162.5 495.9,166.0" fill="none" stroke="#ffffff" stroke-width="0.8" stroke-linejoin="round" stroke-linecap="round" stroke-opacity="0.45" stroke-dasharray="0.01 2.30"/>
<polyline points="505.8,160.4 510.9,158.0 517.1,166.0 522.8,154.7 528.5,147.2 534.1,143.4 539.8,143.4 541.9,146.0" fill="none" stroke="#2e16f2" stroke-width="3.8639999999999994" stroke-linejoin="round" stroke-linecap="round"/>
<polyline points="505.8,160.4 510.9,158.0 517.1,166.0 522.8,154.7 528.5,147.2 534.1,143.4 539.8,143.4 541.9,146.0" fill="none" stroke="#ffffff" stroke-width="0.8639999999999994" stroke-linejoin="round" stroke-linecap="round" stroke-opacity="0.45" stroke-dasharray="0.01 2.36"/>
<polyline points="524.7,149.0 530.4,158.5 536.0,168.0 539.9,160.0" fill="none" stroke="#2e16f2" stroke-width="3.6799999999999997" stroke-linejoin="round" stroke-linecap="round"/>
<polyline points="524.7,149.0 530.4,158.5 536.0,168.0 539.9,160.0" fill="none" stroke="#ffffff" stroke-width="0.8" stroke-linejoin="round" stroke-linecap="round" stroke-opacity="0.45" stroke-dasharray="0.01 2.30"/>
<polyline points="531.9,179.0 535.9,176.5 541.9,176.0" fill="none" stroke="#2e16f2" stroke-width="2.76" stroke-linejoin="round" stroke-linecap="round"/>
<polyline points="531.9,179.0 535.9,176.5 541.9,176.0" fill="none" stroke="#ffffff" stroke-width="0.8" stroke-linejoin="round" stroke-linecap="round" stroke-opacity="0.45" stroke-dasharray="0.01 2.30"/>
<polyline points="495.9,178.0 497.9,182.5 500.9,183.0" fill="none" stroke="#2e16f2" stroke-width="4.048" stroke-linejoin="round" stroke-linecap="round"/>
<polyline points="495.9,178.0 497.9,182.5 500.9,183.0" fill="none" stroke="#ffffff" stroke-width="1.048" stroke-linejoin="round" stroke-linecap="round" stroke-opacity="0.45" stroke-dasharray="0.01 2.55"/>
<polyline points="498.3,22.5 504.9,45.0 512.4,71.6 520.9,48.0 530.4,22.5" fill="none" stroke="#9a9a9a" stroke-width="0.6" stroke-linejoin="round" stroke-linecap="round"/>
<polyline points="498.3,22.5 504.9,45.0 512.4,71.6 520.9,48.0 530.4,22.5" fill="none" stroke="#df7a26" stroke-width="1.56" stroke-linejoin="round" stroke-linecap="round" stroke-dasharray="0.01 1.62"/>
<polyline points="496.4,37.6 502.9,44.0 509.6,50.8 517.9,44.0 526.6,37.6" fill="none" stroke="#9a9a9a" stroke-width="0.6" stroke-linejoin="round" stroke-linecap="round"/>
<polyline points="496.4,37.6 502.9,44.0 509.6,50.8 517.9,44.0 526.6,37.6" fill="none" stroke="#df7a26" stroke-width="1.56" stroke-linejoin="round" stroke-linecap="round" stroke-dasharray="0.01 1.62"/>
<polyline points="503.9,35.0 512.4,45.2 519.9,34.0" fill="none" stroke="#9a9a9a" stroke-width="0.6" stroke-linejoin="round" stroke-linecap="round"/>
<polyline points="503.9,35.0 512.4,45.2 519.9,34.0" fill="none" stroke="#df7a26" stroke-width="1.4300000000000002" stroke-linejoin="round" stroke-linecap="round" stroke-dasharray="0.01 1.49"/>
<polyline points="483.2,18.8 494.5,20.7 502.1,26.3 507.7,30.1 513.4,31.0 519.0,26.3 526.6,20.7 532.9,19.0" fill="none" stroke="#2e16f2" stroke-width="5.289999999999999" stroke-linejoin="round" stroke-linecap="round"/>
<polyline points="483.2,18.8 494.5,20.7 502.1,26.3 507.7,30.1 513.4,31.0 519.0,26.3 526.6,20.7 532.9,19.0" fill="none" stroke="#ffffff" stroke-width="2.289999999999999" stroke-linejoin="round" stroke-linecap="round" stroke-opacity="0.45" stroke-dasharray="0.01 3.79"/>
<polyline points="496.4,28.2 507.7,33.9 515.3,33.0 520.9,28.0" fill="none" stroke="#2e16f2" stroke-width="4.83" stroke-linejoin="round" stroke-linecap="round"/>
<polyline points="496.4,28.2 507.7,33.9 515.3,33.0 520.9,28.0" fill="none" stroke="#ffffff" stroke-width="1.83" stroke-linejoin="round" stroke-linecap="round" stroke-opacity="0.45" stroke-dasharray="0.01 3.33"/>
<polyline points="483.2,54.6 488.9,47.1 494.5,35.8 498.3,32.0 503.0,35.8 507.7,45.2 510.5,52.7" fill="none" stroke="#2e16f2" stroke-width="5.06" stroke-linejoin="round" stroke-linecap="round"/>
<polyline points="483.2,54.6 488.9,47.1 494.5,35.8 498.3,32.0 503.0,35.8 507.7,45.2 510.5,52.7" fill="none" stroke="#ffffff" stroke-width="2.0599999999999996" stroke-linejoin="round" stroke-linecap="round" stroke-opacity="0.45" stroke-dasharray="0.01 3.56"/>
<polyline points="492.6,50.8 498.3,56.5 507.7,60.3 513.4,56.5 519.0,49.0 524.7,47.1 530.4,52.7 534.1,64.0 537.9,56.5 541.9,50.0" fill="none" stroke="#2e16f2" stroke-width="5.06" stroke-linejoin="round" stroke-linecap="round"/>
<polyline points="492.6,50.8 498.3,56.5 507.7,60.3 513.4,56.5 519.0,49.0 524.7,47.1 530.4,52.7 534.1,64.0 537.9,56.5 541.9,50.0" fill="none" stroke="#ffffff" stroke-width="2.0599999999999996" stroke-linejoin="round" stroke-linecap="round" stroke-opacity="0.45" stroke-dasharray="0.01 3.56"/>
<polyline points="510.9,54.0 517.1,49.0 524.9,49.0 534.1,52.7 541.9,48.0" fill="none" stroke="#2e16f2" stroke-width="4.6" stroke-linejoin="round" stroke-linecap="round"/>
<polyline points="510.9,54.0 517.1,49.0 524.9,49.0 534.1,52.7 541.9,48.0" fill="none" stroke="#ffffff" stroke-width="1.5999999999999996" stroke-linejoin="round" stroke-linecap="round" stroke-opacity="0.45" stroke-dasharray="0.01 3.10"/>
<polyline points="483.2,26.3 487.0,33.9 488.9,42.0" fill="none" stroke="#2e16f2" stroke-width="4.6" stroke-linejoin="round" stroke-linecap="round"/>
<polyline points="483.2,26.3 487.0,33.9 488.9,42.0" fill="none" stroke="#ffffff" stroke-width="1.5999999999999996" stroke-linejoin="round" stroke-linecap="round" stroke-opacity="0.45" stroke-dasharray="0.01 3.10"/>
<polyline points="528.5,45.2 534.1,35.8 539.8,28.2 541.9,25.0" fill="none" stroke="#2e16f2" stroke-width="4.83" stroke-linejoin="round" stroke-linecap="round"/>
<polyline points="528.5,45.2 534.1,35.8 539.8,28.2 541.9,25.0" fill="none" stroke="#ffffff" stroke-width="1.83" stroke-linejoin="round" stroke-linecap="round" stroke-opacity="0.45" stroke-dasharray="0.01 3.33"/>
</g>
<line x1="482.91999999999996" y1="179.60" x2="486.91999999999996" y2="179.60" stroke="#444" stroke-width="0.9"/>
<line x1="482.91999999999996" y1="160.00" x2="485.41999999999996" y2="160.00" stroke="#444" stroke-width="0.9"/>
<line x1="482.91999999999996" y1="140.40" x2="486.91999999999996" y2="140.40" stroke="#444" stroke-width="0.9"/>
<line x1="482.91999999999996" y1="120.80" x2="485.41999999999996" y2="120.80" stroke="#444" stroke-width="0.9"/>
<line x1="482.91999999999996" y1="101.20" x2="486.91999999999996" y2="101.20" stroke="#444" stroke-width="0.9"/>
<line x1="482.91999999999996" y1="81.60" x2="485.41999999999996" y2="81.60" stroke="#444" stroke-width="0.9"/>
<line x1="482.91999999999996" y1="62.00" x2="486.91999999999996" y2="62.00" stroke="#444" stroke-width="0.9"/>
<line x1="482.91999999999996" y1="42.40" x2="485.41999999999996" y2="42.40" stroke="#444" stroke-width="0.9"/>
<line x1="482.91999999999996" y1="22.80" x2="486.91999999999996" y2="22.80" stroke="#444" stroke-width="0.9"/>
<rect x="482.91999999999996" y="18.6" width="59.2" height="164.70000000000002" fill="none" stroke="#4a4a4a" stroke-width="1"/>
<text x="483.92" y="191.8" text-anchor="middle" font-family="Liberation Serif, serif" font-size="9.5" fill="#222">Γ</text>
<text x="499.02" y="191.8" text-anchor="middle" font-family="Liberation Serif, serif" font-weight="bold" font-size="9" fill="#111">X</text>
<text x="513.82" y="191.8" text-anchor="middle" font-family="Liberation Serif, serif" font-weight="bold" font-size="9" fill="#111">M</text>
<text x="528.91" y="191.8" text-anchor="middle" font-family="Liberation Serif, serif" font-weight="bold" font-size="9" fill="#111">Y</text>
<text x="543.12" y="191.8" text-anchor="middle" font-family="Liberation Serif, serif" font-size="9.5" fill="#222">Γ</text>
</g>
<text x="29.2" y="25.70" text-anchor="end" font-family="Liberation Serif, serif" font-weight="bold" font-size="9.8" fill="#000">2</text>
<text x="29.2" y="64.90" text-anchor="end" font-family="Liberation Serif, serif" font-weight="bold" font-size="9.8" fill="#000">1</text>
<text x="29.2" y="104.10" text-anchor="end" font-family="Liberation Serif, serif" font-weight="bold" font-size="9.8" fill="#000">0</text>
<text x="29.2" y="143.30" text-anchor="end" font-family="Liberation Serif, serif" font-weight="bold" font-size="9.8" fill="#000">-1</text>
<text x="29.2" y="182.50" text-anchor="end" font-family="Liberation Serif, serif" font-weight="bold" font-size="9.8" fill="#000">-2</text>
<text x="59.20" y="207.6" text-anchor="middle" font-family="Liberation Serif, serif" font-size="12" fill="#111">CsI/MoS<tspan font-size="8" dy="2.5">2</tspan></text>
<text x="136.62" y="207.6" text-anchor="middle" font-family="Liberation Serif, serif" font-size="12" fill="#111">CsI/S-MoSSe</text>
<text x="212.04" y="207.6" text-anchor="middle" font-family="Liberation Serif, serif" font-size="12" fill="#111">CsI/Se-MoSSe</text>
<text x="287.46" y="207.6" text-anchor="middle" font-family="Liberation Serif, serif" font-size="12" fill="#111">CsI/S-MoSTe</text>
<text x="362.88" y="207.6" text-anchor="middle" font-family="Liberation Serif, serif" font-size="12" fill="#111">CsI/Se-MoSTe</text>
<text x="438.30" y="207.6" text-anchor="middle" font-family="Liberation Serif, serif" font-size="12" fill="#111">CsI/S-WSTe</text>
<text x="513.72" y="207.6" text-anchor="middle" font-family="Liberation Serif, serif" font-size="12" fill="#111">CsI/Se-WSTe</text>
<rect x="581.2" y="1.8" width="152.6" height="212.2" fill="none" stroke="#3c3c3c" stroke-width="1.6"/>
<text x="585.6" y="14" font-family="Liberation Sans, sans-serif" font-weight="bold" font-size="10" fill="#000">C</text>
<defs>
<linearGradient id="cOr" x1="0" y1="0" x2="0" y2="1"><stop offset="0" stop-color="#fcf6ef"/><stop offset="0.35" stop-color="#efd3b0"/><stop offset="1" stop-color="#dc9f5c"/></linearGradient>
<linearGradient id="cBl" x1="0" y1="0" x2="0" y2="1"><stop offset="0" stop-color="#f2f1ff"/><stop offset="0.15" stop-color="#b0acf7"/><stop offset="0.5" stop-color="#7366f4"/><stop offset="1" stop-color="#3119ef"/></linearGradient>
<linearGradient id="cOr2" x1="0" y1="0" x2="0" y2="1"><stop offset="0" stop-color="#dca060"/><stop offset="0.5" stop-color="#e2ae74"/><stop offset="0.8" stop-color="#f0d6b8"/><stop offset="1" stop-color="#fdfaf6"/></linearGradient>
<linearGradient id="cBl2" x1="0" y1="0" x2="0" y2="1"><stop offset="0" stop-color="#3a1ef0"/><stop offset="0.5" stop-color="#6a5cf4"/><stop offset="0.8" stop-color="#b5b0f8"/><stop offset="1" stop-color="#f6f6ff"/></linearGradient>
</defs>
<rect x="613.1" y="19" width="44.7" height="32" fill="url(#cOr)"/>
<rect x="661.1" y="18.6" width="44.6" height="70.5" fill="url(#cBl)"/>
<rect x="613.1" y="49.8" width="44.7" height="2.3" fill="#000"/>
<rect x="661.1" y="87.6" width="44.6" height="2.4" fill="#000"/>
<circle cx="618.1" cy="45.9" r="2.4" fill="#939393"/>
<circle cx="624.8" cy="45.9" r="2.4" fill="#939393"/>
<circle cx="631" cy="45.9" r="2.4" fill="#939393"/>
<circle cx="638.6" cy="45.9" r="2.4" fill="#939393"/>
<circle cx="645.3" cy="45.9" r="2.4" fill="#939393"/>
<circle cx="652" cy="45.9" r="2.4" fill="#939393"/>
<circle cx="666.2" cy="77" r="2.4" fill="#939393"/>
<circle cx="672.9" cy="77" r="2.4" fill="#939393"/>
<circle cx="679.1" cy="77" r="2.4" fill="#939393"/>
<circle cx="686.8" cy="77" r="2.4" fill="#939393"/>
<circle cx="693.4" cy="77" r="2.4" fill="#939393"/>
<circle cx="700.3" cy="77" r="2.4" fill="#939393"/>
<circle cx="666.2" cy="84.1" r="2.4" fill="#939393"/>
<circle cx="672.9" cy="84.1" r="2.4" fill="#939393"/>
<circle cx="679.1" cy="84.1" r="2.4" fill="#939393"/>
<circle cx="686.8" cy="84.1" r="2.4" fill="#939393"/>
<circle cx="693.4" cy="84.1" r="2.4" fill="#939393"/>
<circle cx="700.3" cy="84.1" r="2.4" fill="#939393"/>
<text x="683.4" y="36.8" text-anchor="middle" font-family="Liberation Serif, serif" font-weight="bold" font-size="10.6" fill="#111">J-TMDs</text>
<text x="599.3" y="55.2" font-family="Liberation Serif, serif" font-weight="bold" font-style="italic" font-size="13.5" fill="#000">E<tspan font-size="9" dy="2.6">c</tspan></text>
<line x1="659.6" y1="54.5" x2="659.6" y2="86.5" stroke="#d01f2e" stroke-width="1.7"/>
<path d="M657.2,56 L659.6,51.2 L662,56 Z" fill="#d01f2e"/>
<path d="M657.2,85 L659.6,89.8 L662,85 Z" fill="#d01f2e"/>
<text x="634.2" y="73" font-family="Liberation Serif, serif" font-weight="bold" font-style="italic" font-size="10.5" fill="#d01f2e">CBO</text>
<path d="M642.9,38.4 Q665,38 681.2,57.3 L688,57.1 L684.3,70.4 L672.2,63 L677.5,60.4 Q660,42 642.9,38.4 Z" fill="#707070"/>
<rect x="613.1" y="129.6" width="44.5" height="55.5" fill="url(#cOr2)"/>
<rect x="661.2" y="153" width="44.4" height="32" fill="url(#cBl2)"/>
<rect x="613.1" y="129" width="44.5" height="2.2" fill="#000"/>
<rect x="661.2" y="152.4" width="44.4" height="2.2" fill="#000"/>
<circle cx="617.9" cy="135.9" r="2.3" fill="#fff"/>
<circle cx="624.5" cy="135.9" r="2.3" fill="#fff"/>
<circle cx="631.1" cy="135.9" r="2.3" fill="#fff"/>
<circle cx="638.8" cy="135.9" r="2.3" fill="#fff"/>
<circle cx="645.4" cy="135.9" r="2.3" fill="#fff"/>
<circle cx="652" cy="135.9" r="2.3" fill="#fff"/>
<circle cx="617.9" cy="143.5" r="2.3" fill="#fff"/>
<circle cx="624.5" cy="143.5" r="2.3" fill="#fff"/>
<circle cx="631.1" cy="143.5" r="2.3" fill="#fff"/>
<circle cx="638.8" cy="143.5" r="2.3" fill="#fff"/>
<circle cx="645.4" cy="143.5" r="2.3" fill="#fff"/>
<circle cx="652" cy="143.5" r="2.3" fill="#fff"/>
<circle cx="666" cy="158.9" r="2.3" fill="#fff"/>
<circle cx="672.9" cy="158.9" r="2.3" fill="#fff"/>
<circle cx="679.2" cy="158.9" r="2.3" fill="#fff"/>
<circle cx="686.2" cy="158.9" r="2.3" fill="#fff"/>
<circle cx="693.1" cy="158.9" r="2.3" fill="#fff"/>
<circle cx="699.7" cy="158.9" r="2.3" fill="#fff"/>
<text x="599.2" y="136.8" font-family="Liberation Serif, serif" font-weight="bold" font-style="italic" font-size="13.5" fill="#000">E<tspan font-size="9" dy="2.6">v</tspan></text>
<line x1="660" y1="133" x2="660" y2="149.5" stroke="#d01f2e" stroke-width="1.7"/>
<path d="M657.6,134.5 L660,129.8 L662.4,134.5 Z" fill="#d01f2e"/>
<path d="M657.6,148 L660,152.6 L662.4,148 Z" fill="#d01f2e"/>
<text x="663.6" y="145.2" font-family="Liberation Serif, serif" font-weight="bold" font-style="italic" font-size="10.5" fill="#d01f2e">VBO</text>
<path d="M636.4,151.2 L647.8,154.2 L645.2,156.6 Q660,162.6 682,163.8 Q657,166.5 642.2,159.2 L637.2,159.8 Z" fill="#fff"/>
<text x="621.8" y="177.3" font-family="Liberation Serif, serif" font-weight="bold" font-size="11" fill="#111">CsPbI<tspan font-size="6.5" dy="2.4">3</tspan></text>
<text transform="translate(662.6,206.2) scale(0.92,1)" text-anchor="middle" font-family="Liberation Serif, serif" font-size="14.2" fill="#111">Type-II</text>
<defs>
<linearGradient id="bOrT" x1="0" y1="0" x2="0" y2="1"><stop offset="0" stop-color="#f8eec4"/><stop offset="0.5" stop-color="#e9b487"/><stop offset="0.88" stop-color="#d86a2a"/><stop offset="1" stop-color="#d86a2a"/></linearGradient>
<linearGradient id="bOrB" x1="0" y1="1" x2="0" y2="0"><stop offset="0" stop-color="#f8eec4"/><stop offset="0.5" stop-color="#e9b487"/><stop offset="0.88" stop-color="#d86a2a"/><stop offset="1" stop-color="#d86a2a"/></linearGradient>
<linearGradient id="bBlT" x1="0" y1="0" x2="0" y2="1"><stop offset="0" stop-color="#dde5f3"/><stop offset="0.45" stop-color="#a7a6f4"/><stop offset="0.88" stop-color="#2a08f2"/><stop offset="1" stop-color="#2200f0"/></linearGradient>
<linearGradient id="bBlB" x1="0" y1="1" x2="0" y2="0"><stop offset="0" stop-color="#dde5f3"/><stop offset="0.45" stop-color="#a7a6f4"/><stop offset="0.88" stop-color="#2a08f2"/><stop offset="1" stop-color="#2200f0"/></linearGradient>
</defs>
<rect x="1.8" y="231.8" width="549.4" height="222.4" fill="none" stroke="#3c3c3c" stroke-width="1.6"/>
<text transform="translate(5.6,244.1) scale(0.9,1)" font-family="Liberation Sans, sans-serif" font-weight="bold" font-size="10.8" fill="#000">B</text>
<rect x="35.3" y="232.8" width="27.70" height="57.20" fill="url(#bOrT)"/>
<path d="M63,232.8 L90,232.8 L90,333.4 L63,333.4 Z" fill="url(#bBlT)"/>
<rect x="113.5" y="232.8" width="26.80" height="30.40" fill="url(#bOrT)"/>
<path d="M140.3,232.8 L167.2,232.8 L167.2,299.2 L140.3,293.4 Z" fill="url(#bBlT)"/>
<rect x="186.3" y="232.8" width="27.40" height="45.80" fill="url(#bOrT)"/>
<path d="M213.7,232.8 L240.2,232.8 L240.2,284.9 L213.7,289.9 Z" fill="url(#bBlT)"/>
<rect x="262.1" y="232.8" width="27.70" height="45.00" fill="url(#bOrT)"/>
<path d="M289.8,232.8 L317.2,232.8 L317.2,318.6 L289.8,310 Z" fill="url(#bBlT)"/>
<rect x="338.8" y="232.8" width="27.50" height="86.50" fill="url(#bOrT)"/>
<path d="M366.3,232.8 L393.6,232.8 L393.6,306.4 L366.3,313.8 Z" fill="url(#bBlT)"/>
<rect x="413.9" y="232.8" width="27.60" height="43.00" fill="url(#bOrT)"/>
<path d="M441.5,232.8 L468.7,232.8 L468.7,319.3 L441.5,311 Z" fill="url(#bBlT)"/>
<rect x="486.8" y="232.8" width="27.20" height="89.80" fill="url(#bOrT)"/>
<path d="M514,232.8 L540.9,232.8 L540.9,294.7 L514,301.2 Z" fill="url(#bBlT)"/>
<rect x="36" y="361.7" width="26.80" height="91.70" fill="url(#bOrB)"/>
<path d="M62.8,413.3 L90.2,413.3 L90.2,453.4 L62.8,453.4 Z" fill="url(#bBlB)"/>
<rect x="114.1" y="340.8" width="27.10" height="112.60" fill="url(#bOrB)"/>
<path d="M141.2,395.4 L167.7,400.3 L167.7,453.4 L141.2,453.4 Z" fill="url(#bBlB)"/>
<rect x="188.1" y="350" width="25.90" height="103.40" fill="url(#bOrB)"/>
<path d="M214,385.5 L240.5,378.7 L240.5,453.4 L214,453.4 Z" fill="url(#bBlB)"/>
<rect x="264.4" y="354" width="26.20" height="99.40" fill="url(#bOrB)"/>
<path d="M290.6,391 L317.7,396.3 L317.7,453.4 L290.6,453.4 Z" fill="url(#bBlB)"/>
<rect x="340" y="395.7" width="26.10" height="57.70" fill="url(#bOrB)"/>
<path d="M366.1,375.6 L393.9,368.5 L393.9,453.4 L366.1,453.4 Z" fill="url(#bBlB)"/>
<rect x="415.3" y="353.7" width="25.90" height="99.70" fill="url(#bOrB)"/>
<path d="M441.2,395.4 L468,400.3 L468,453.4 L441.2,453.4 Z" fill="url(#bBlB)"/>
<rect x="488.4" y="393.2" width="26.20" height="60.20" fill="url(#bOrB)"/>
<path d="M514.6,376.2 L541.4,369.1 L541.4,453.4 L514.6,453.4 Z" fill="url(#bBlB)"/>
<line x1="100.8" y1="232.7" x2="100.8" y2="454" stroke="#000" stroke-width="3.1" stroke-dasharray="12 8.4"/>
<line x1="251.6" y1="232.7" x2="251.6" y2="454" stroke="#000" stroke-width="3.1" stroke-dasharray="12 8.4"/>
<line x1="404.4" y1="232.7" x2="404.4" y2="454" stroke="#000" stroke-width="3.1" stroke-dasharray="12 8.4"/>
<text transform="translate(22.9,342.0) rotate(-90)" text-anchor="middle" font-family="Liberation Serif, serif" font-size="15.3" fill="#222">CsI Contact</text>
<text x="138" y="450.2" text-anchor="middle" font-family="Liberation Serif, serif" font-size="14" fill="#111">S-</text>
<text x="212.5" y="450.2" text-anchor="middle" font-family="Liberation Serif, serif" font-size="14" fill="#111">Se-</text>
<text x="291" y="450.2" text-anchor="middle" font-family="Liberation Serif, serif" font-size="14" fill="#111">S-</text>
<text x="365.7" y="450.2" text-anchor="middle" font-family="Liberation Serif, serif" font-size="14" fill="#111">Te-</text>
<text x="442.5" y="450.2" text-anchor="middle" font-family="Liberation Serif, serif" font-size="14" fill="#111">S-</text>
<text x="517.3" y="450.2" text-anchor="middle" font-family="Liberation Serif, serif" font-size="14" fill="#111">Te-</text>
<text x="62" y="473.3" text-anchor="middle" font-family="Liberation Serif, serif" font-size="15" fill="#222">MoS<tspan font-size="10" dy="3">2</tspan></text>
<text x="176.5" y="473.3" text-anchor="middle" font-family="Liberation Serif, serif" font-size="15" fill="#222">MoSSe</text>
<text x="328.3" y="473.3" text-anchor="middle" font-family="Liberation Serif, serif" font-size="15" fill="#222">MoSTe</text>
<text x="477.2" y="473.3" text-anchor="middle" font-family="Liberation Serif, serif" font-size="15" fill="#222">WSTe</text>
<defs>
<linearGradient id="dGold" x1="0" y1="0" x2="1" y2="0"><stop offset="0" stop-color="#fbf8ec"/><stop offset="0.35" stop-color="#f4e6b0"/><stop offset="0.75" stop-color="#ebcb62"/><stop offset="1" stop-color="#e7b42a"/></linearGradient>
<linearGradient id="dTeal" x1="0" y1="0" x2="1" y2="0"><stop offset="0" stop-color="#66a3a5"/><stop offset="0.5" stop-color="#b8d3d6"/><stop offset="1" stop-color="#eef3f8"/></linearGradient>
</defs>
<rect x="582.2" y="232.6" width="95.00" height="222.30" fill="url(#dGold)"/>
<rect x="677.2" y="232.6" width="57.00" height="222.30" fill="url(#dTeal)"/>
<rect x="582.2" y="232.6" width="152.00" height="222.30" fill="none" stroke="#111" stroke-width="1.3"/>
<line x1="582.2" y1="439.95" x2="584.7" y2="439.95" stroke="#111" stroke-width="1"/>
<line x1="582.2" y1="416.00" x2="586.2" y2="416.00" stroke="#111" stroke-width="1"/>
<line x1="582.2" y1="392.05" x2="584.7" y2="392.05" stroke="#111" stroke-width="1"/>
<line x1="582.2" y1="368.10" x2="586.2" y2="368.10" stroke="#111" stroke-width="1"/>
<line x1="582.2" y1="344.15" x2="584.7" y2="344.15" stroke="#111" stroke-width="1"/>
<line x1="582.2" y1="320.20" x2="586.2" y2="320.20" stroke="#111" stroke-width="1"/>
<line x1="582.2" y1="296.25" x2="584.7" y2="296.25" stroke="#111" stroke-width="1"/>
<line x1="582.2" y1="272.30" x2="586.2" y2="272.30" stroke="#111" stroke-width="1"/>
<line x1="582.2" y1="248.35" x2="584.7" y2="248.35" stroke="#111" stroke-width="1"/>
<text x="578.6" y="276.70" text-anchor="end" font-family="Liberation Serif, serif" font-weight="bold" font-size="13" fill="#111">1.8</text>
<text x="578.6" y="324.60" text-anchor="end" font-family="Liberation Serif, serif" font-weight="bold" font-size="13" fill="#111">1.2</text>
<text x="578.6" y="372.50" text-anchor="end" font-family="Liberation Serif, serif" font-weight="bold" font-size="13" fill="#111">0.6</text>
<text x="578.6" y="420.40" text-anchor="end" font-family="Liberation Serif, serif" font-weight="bold" font-size="13" fill="#111">0.0</text>
<text transform="translate(575.4,242.8) rotate(-90)" text-anchor="middle" font-family="Liberation Serif, serif" font-weight="bold" font-size="13" fill="#111">/eV</text>
<line x1="601.6" y1="454.9" x2="601.6" y2="450.9" stroke="#111" stroke-width="1"/>
<line x1="639.6" y1="454.9" x2="639.6" y2="450.9" stroke="#111" stroke-width="1"/>
<line x1="677.2" y1="454.9" x2="677.2" y2="450.9" stroke="#111" stroke-width="1"/>
<line x1="715.1" y1="454.9" x2="715.1" y2="450.9" stroke="#111" stroke-width="1"/>
<text x="569" y="473.3" font-family="Liberation Serif, serif" font-size="15" fill="#222">MoS<tspan font-size="10" dy="3">2</tspan></text>
<text x="609.2" y="473.3" font-family="Liberation Serif, serif" font-size="15" fill="#222">MoSSe</text>
<text x="659.7" y="473.3" font-family="Liberation Serif, serif" font-size="15" fill="#222">MoSTe</text>
<text x="711.4" y="473.3" font-family="Liberation Serif, serif" font-size="15" fill="#222">WSTe</text>
<text x="586.6" y="245.2" font-family="Liberation Sans, sans-serif" font-weight="bold" font-size="9.8" fill="#000">D</text>
<polyline points="601.6,317.1 639.6,378.7 677.2,423.4 715.1,427.1" fill="none" stroke="#d8252e" stroke-width="1.5" stroke-dasharray="4 3"/>
<polyline points="601.6,302.5 639.6,357.8 677.2,433.9 715.1,434.8" fill="none" stroke="#2a1cf0" stroke-width="1.5" stroke-dasharray="4 3"/>
<polyline points="601.6,317.1 639.6,336.8 677.2,343 715.1,349.1" fill="none" stroke="#d8252e" stroke-width="1.5"/>
<polyline points="601.6,302.5 639.6,316.6 677.2,351 715.1,355.6" fill="none" stroke="#2a1cf0" stroke-width="1.5"/>
<defs>
<radialGradient id="ballR" cx="0.35" cy="0.3" r="0.75"><stop offset="0" stop-color="#ffd0d0"/><stop offset="0.3" stop-color="#e8404a"/><stop offset="1" stop-color="#a8101c"/></radialGradient>
<radialGradient id="ballB" cx="0.35" cy="0.3" r="0.75"><stop offset="0" stop-color="#d8d8ff"/><stop offset="0.3" stop-color="#3a30ff"/><stop offset="1" stop-color="#1a0cb0"/></radialGradient>
</defs>
<circle cx="601.6" cy="317.1" r="4.2" fill="url(#ballR)"/>
<circle cx="639.6" cy="378.7" r="4.2" fill="url(#ballR)"/>
<circle cx="677.2" cy="423.4" r="4.2" fill="url(#ballR)"/>
<circle cx="715.1" cy="427.1" r="4.2" fill="url(#ballR)"/>
<circle cx="601.6" cy="302.5" r="4.2" fill="url(#ballB)"/>
<circle cx="639.6" cy="357.8" r="4.2" fill="url(#ballB)"/>
<circle cx="677.2" cy="433.9" r="4.2" fill="url(#ballB)"/>
<circle cx="715.1" cy="434.8" r="4.2" fill="url(#ballB)"/>
<circle cx="601.6" cy="317.1" r="4.2" fill="url(#ballR)"/>
<circle cx="639.6" cy="336.8" r="4.2" fill="url(#ballR)"/>
<circle cx="677.2" cy="343" r="4.2" fill="url(#ballR)"/>
<circle cx="715.1" cy="349.1" r="4.2" fill="url(#ballR)"/>
<circle cx="601.6" cy="302.5" r="4.2" fill="url(#ballB)"/>
<circle cx="639.6" cy="316.6" r="4.2" fill="url(#ballB)"/>
<circle cx="677.2" cy="351" r="4.2" fill="url(#ballB)"/>
<circle cx="715.1" cy="355.6" r="4.2" fill="url(#ballB)"/>
<line x1="602.4" y1="243.20" x2="629.4" y2="243.20" stroke="#d8252e" stroke-width="1.5"/>
<circle cx="616" cy="243.20" r="4.1" fill="url(#ballR)"/>
<text x="633.4" y="247.30" font-family="Liberation Serif, serif" font-weight="bold" font-style="italic" font-size="12.2" fill="#111">CBO (X contacted)</text>
<line x1="602.4" y1="258.83" x2="629.4" y2="258.83" stroke="#d8252e" stroke-width="1.5" stroke-dasharray="4 3"/>
<circle cx="616" cy="258.83" r="4.1" fill="url(#ballR)"/>
<text x="633.4" y="262.93" font-family="Liberation Serif, serif" font-weight="bold" font-style="italic" font-size="12.2" fill="#111">CBO (Y contacted)</text>
<line x1="602.4" y1="274.46" x2="629.4" y2="274.46" stroke="#2a1cf0" stroke-width="1.5"/>
<circle cx="616" cy="274.46" r="4.1" fill="url(#ballB)"/>
<text x="633.4" y="278.56" font-family="Liberation Serif, serif" font-weight="bold" font-style="italic" font-size="12.2" fill="#111">VBO (X contacted)</text>
<line x1="602.4" y1="290.09" x2="629.4" y2="290.09" stroke="#2a1cf0" stroke-width="1.5" stroke-dasharray="4 3"/>
<circle cx="616" cy="290.09" r="4.1" fill="url(#ballB)"/>
<text x="633.4" y="294.19" font-family="Liberation Serif, serif" font-weight="bold" font-style="italic" font-size="12.2" fill="#111">VBO (Y contacted)</text>
<text x="704.3" y="379.8" text-anchor="middle" font-family="Liberation Serif, serif" font-size="15" letter-spacing="0.3" fill="#d8252e">Alter M</text>
<text x="624.3" y="426.2" text-anchor="middle" font-family="Liberation Serif, serif" font-size="15" fill="#d8252e">Alter X/Y</text>
</svg></body></html>
